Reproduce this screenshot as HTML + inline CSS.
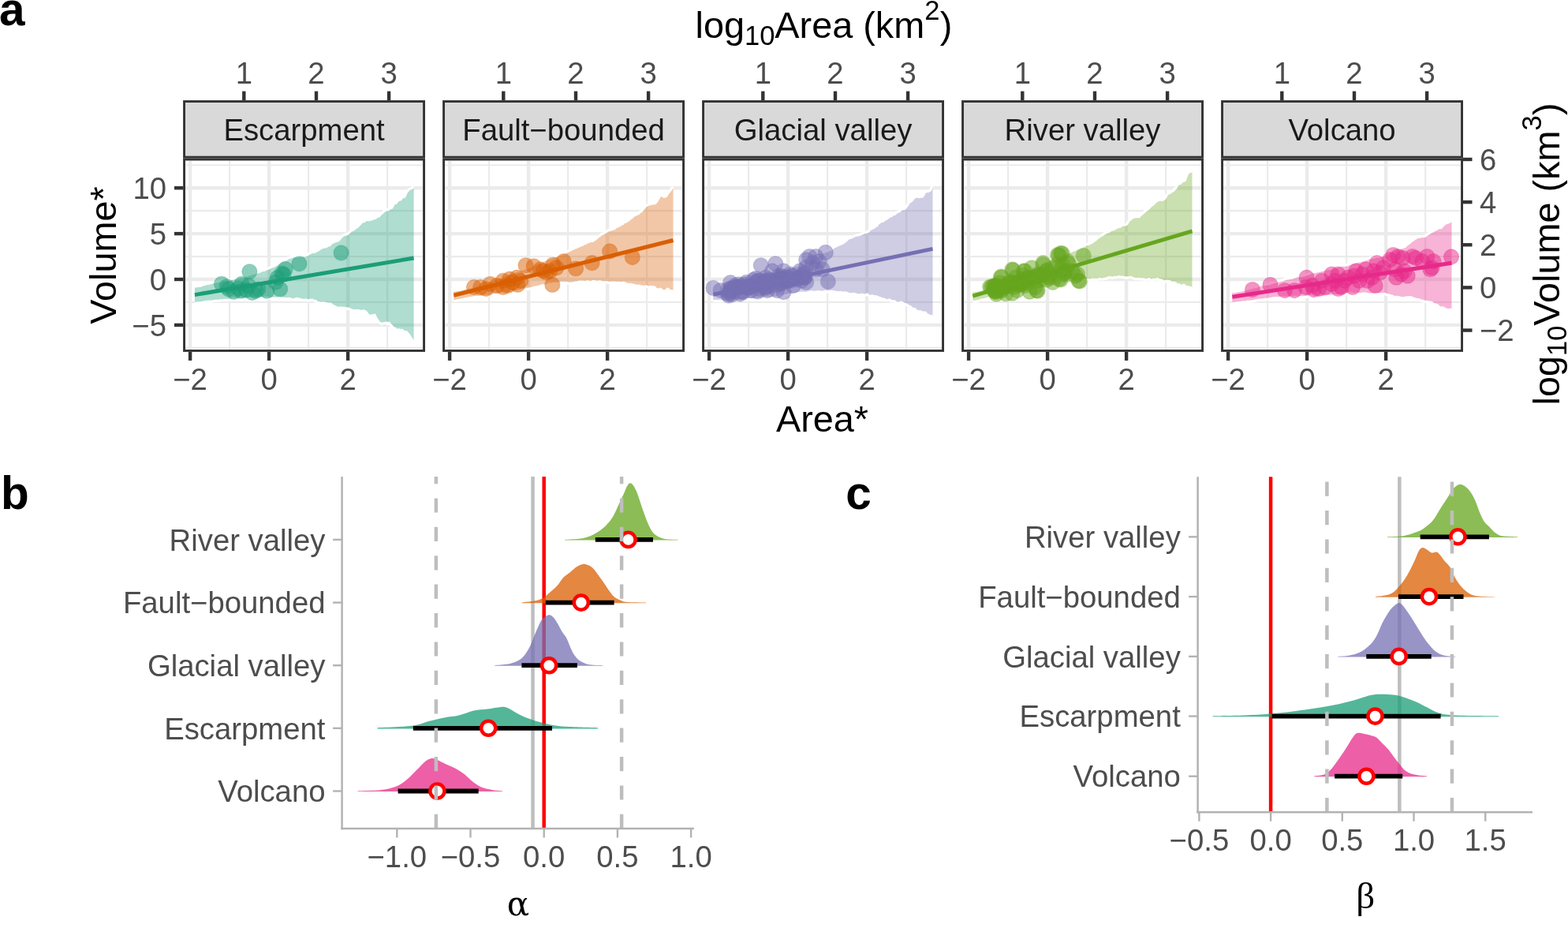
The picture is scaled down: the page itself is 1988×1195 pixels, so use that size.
<!DOCTYPE html><html><head><meta charset="utf-8"><title>Figure</title>
<style>html,body{margin:0;padding:0;background:#fff;overflow:hidden}svg{display:block}</style></head><body>
<svg width="1988" height="1195" viewBox="0 0 1988 1195">
<rect x="0" y="0" width="1988" height="1195" fill="#fff"/>
<defs>
<clipPath id="pc0"><rect x="235" y="203.5" width="301.1" height="239.5"/></clipPath>
<clipPath id="pc1"><rect x="564" y="203.5" width="301.1" height="239.5"/></clipPath>
<clipPath id="pc2"><rect x="893" y="203.5" width="301.1" height="239.5"/></clipPath>
<clipPath id="pc3"><rect x="1222" y="203.5" width="301.1" height="239.5"/></clipPath>
<clipPath id="pc4"><rect x="1551" y="203.5" width="301.1" height="239.5"/></clipPath>
</defs>
<rect x="233.55" y="128.55" width="304" height="70.6" fill="#D9D9D9" stroke="#333333" stroke-width="2.9"/>
<text x="385.55" y="177.8" font-family="'Liberation Sans', Arial, sans-serif" font-size="38.3" fill="#1A1A1A" text-anchor="middle">Escarpment</text>
<g clip-path="url(#pc0)">
<rect x="232.1" y="200.6" width="306.9" height="245.3" fill="#fff"/>
<line x1="191.1" y1="200.6" x2="191.1" y2="445.9" stroke="#EBEBEB" stroke-width="2.2"/>
<line x1="291.1" y1="200.6" x2="291.1" y2="445.9" stroke="#EBEBEB" stroke-width="2.2"/>
<line x1="391.1" y1="200.6" x2="391.1" y2="445.9" stroke="#EBEBEB" stroke-width="2.2"/>
<line x1="491.1" y1="200.6" x2="491.1" y2="445.9" stroke="#EBEBEB" stroke-width="2.2"/>
<line x1="232.1" y1="440.85" x2="539" y2="440.85" stroke="#EBEBEB" stroke-width="2.2"/>
<line x1="232.1" y1="382.95" x2="539" y2="382.95" stroke="#EBEBEB" stroke-width="2.2"/>
<line x1="232.1" y1="325.05" x2="539" y2="325.05" stroke="#EBEBEB" stroke-width="2.2"/>
<line x1="232.1" y1="267.15" x2="539" y2="267.15" stroke="#EBEBEB" stroke-width="2.2"/>
<line x1="232.1" y1="209.25" x2="539" y2="209.25" stroke="#EBEBEB" stroke-width="2.2"/>
<line x1="241.1" y1="200.6" x2="241.1" y2="445.9" stroke="#EBEBEB" stroke-width="4.4"/>
<line x1="341.1" y1="200.6" x2="341.1" y2="445.9" stroke="#EBEBEB" stroke-width="4.4"/>
<line x1="441.1" y1="200.6" x2="441.1" y2="445.9" stroke="#EBEBEB" stroke-width="4.4"/>
<line x1="232.1" y1="411.9" x2="539" y2="411.9" stroke="#EBEBEB" stroke-width="4.4"/>
<line x1="232.1" y1="354" x2="539" y2="354" stroke="#EBEBEB" stroke-width="4.4"/>
<line x1="232.1" y1="296.1" x2="539" y2="296.1" stroke="#EBEBEB" stroke-width="4.4"/>
<line x1="232.1" y1="238.2" x2="539" y2="238.2" stroke="#EBEBEB" stroke-width="4.4"/>
<path d="M246.9,363.1 L248.4,362.83 L249.9,362.44 L251.4,362.44 L252.9,362.35 L254.41,362.06 L255.91,361.33 L257.41,361.1 L258.91,360.39 L260.41,359.89 L261.91,359.65 L263.41,359.43 L264.91,359.13 L266.41,358.62 L267.92,358.4 L269.42,357.93 L270.92,357.56 L272.42,357.41 L273.92,357.01 L275.42,356.62 L276.92,356.2 L278.42,356.07 L279.92,355.84 L281.42,355.17 L282.93,354.98 L284.43,354.91 L285.93,354.38 L287.43,354.36 L288.93,354.45 L290.43,354.18 L291.93,354 L293.43,353.56 L294.93,353.02 L296.44,353.01 L297.94,352.32 L299.44,352.34 L300.94,351.54 L302.44,351.34 L303.94,350.77 L305.44,350.74 L306.94,350.45 L308.44,350.44 L309.95,350.11 L311.45,349.27 L312.95,349.1 L314.45,348.18 L315.95,348.01 L317.45,347.54 L318.95,346.79 L320.45,346.55 L321.95,346.21 L323.46,345.79 L324.96,345.17 L326.46,344.99 L327.96,344.25 L329.46,344.14 L330.96,343.21 L332.46,342.65 L333.96,342.48 L335.46,342.16 L336.96,341.21 L338.47,340.8 L339.97,340.13 L341.47,339.47 L342.97,338.67 L344.47,338.07 L345.97,337.46 L347.47,337.16 L348.97,336.04 L350.47,335.09 L351.98,334.06 L353.48,333.73 L354.98,332.41 L356.48,331.67 L357.98,330.68 L359.48,329.99 L360.98,330.01 L362.48,328.97 L363.98,328.16 L365.49,326.6 L366.99,326.56 L368.49,325.93 L369.99,325.7 L371.49,324.67 L372.99,324.32 L374.49,324.56 L375.99,324.76 L377.49,324.76 L379,324.56 L380.5,324.22 L382,324.19 L383.5,323.72 L385,323.6 L386.5,324.01 L388,323.57 L389.5,322.81 L391,322.12 L392.5,320.81 L394.01,320.45 L395.51,319.43 L397.01,319.39 L398.51,319.34 L400.01,318.63 L401.51,318.11 L403.01,316.84 L404.51,316.45 L406.01,314.78 L407.52,314.04 L409.02,313.47 L410.52,313.27 L412.02,312.9 L413.52,312.73 L415.02,311.54 L416.52,310.81 L418.02,310.67 L419.52,308.78 L421.03,307.29 L422.53,306.93 L424.03,306.34 L425.53,305.73 L427.03,305.01 L428.53,304.98 L430.03,303.64 L431.53,301.76 L433.03,299.98 L434.54,298.69 L436.04,297.94 L437.54,296.91 L439.04,297.07 L440.54,296.33 L442.04,295.12 L443.54,293.76 L445.04,292.01 L446.54,291.85 L448.04,290.95 L449.55,290.11 L451.05,288.23 L452.55,287.95 L454.05,286.47 L455.55,284.71 L457.05,283.32 L458.55,281.32 L460.05,280.58 L461.55,280.67 L463.06,278.73 L464.56,278.56 L466.06,278.6 L467.56,278.42 L469.06,278.57 L470.56,277.97 L472.06,277.63 L473.56,276.42 L475.06,276.77 L476.57,275.89 L478.07,274.05 L479.57,274.3 L481.07,273.31 L482.57,271.24 L484.07,270.24 L485.57,268.98 L487.07,267.03 L488.57,266.68 L490.08,264.88 L491.58,265.89 L493.08,264.97 L494.58,263.98 L496.08,263.71 L497.58,261.87 L499.08,258.65 L500.58,257.68 L502.08,257.49 L503.58,254.86 L505.09,253.94 L506.59,252.41 L508.09,252.88 L509.59,249.9 L511.09,249.72 L512.59,249.4 L514.09,246.54 L515.59,242.89 L517.09,241.66 L518.6,239.73 L520.1,239.12 L521.6,238.72 L523.1,237.45 L524.6,236.9 L524.6,431.7 L523.1,431.75 L521.6,429.26 L520.1,427.02 L518.6,424.55 L517.09,422.83 L515.59,420.96 L514.09,420.77 L512.59,420.35 L511.09,419.58 L509.59,418.29 L508.09,419.16 L506.59,417.83 L505.09,418.38 L503.58,417.9 L502.08,418.23 L500.58,416.13 L499.08,416.09 L497.58,414.27 L496.08,412.64 L494.58,410.98 L493.08,409.24 L491.58,410.47 L490.08,408.97 L488.57,409.48 L487.07,409.5 L485.57,410.03 L484.07,410.42 L482.57,409.73 L481.07,409.29 L479.57,407.13 L478.07,405.29 L476.57,402.81 L475.06,399.21 L473.56,399.49 L472.06,400.21 L470.56,399.91 L469.06,401.3 L467.56,399.94 L466.06,398.29 L464.56,396.08 L463.06,394.78 L461.55,394.27 L460.05,393.81 L458.55,394.73 L457.05,394.31 L455.55,393.83 L454.05,393.57 L452.55,393.67 L451.05,393.59 L449.55,393.58 L448.04,393.99 L446.54,393.18 L445.04,392.27 L443.54,392.22 L442.04,391.16 L440.54,391.56 L439.04,390.75 L437.54,390.54 L436.04,390.32 L434.54,390.32 L433.03,390.39 L431.53,389.87 L430.03,390.61 L428.53,390.38 L427.03,389.69 L425.53,389.21 L424.03,388.48 L422.53,387.73 L421.03,386.94 L419.52,385.39 L418.02,385.02 L416.52,385.09 L415.02,385.03 L413.52,384.53 L412.02,384.6 L410.52,383.84 L409.02,384.26 L407.52,384.05 L406.01,384.34 L404.51,383.69 L403.01,383.7 L401.51,382.73 L400.01,381.37 L398.51,381.11 L397.01,380.83 L395.51,379.97 L394.01,380.26 L392.5,380.42 L391,380.9 L389.5,380.55 L388,380.11 L386.5,380.04 L385,380.37 L383.5,380.43 L382,379.71 L380.5,379.47 L379,379.16 L377.49,378.36 L375.99,378.58 L374.49,378.86 L372.99,379.77 L371.49,379.5 L369.99,379.6 L368.49,378.96 L366.99,378.42 L365.49,378.67 L363.98,378.72 L362.48,378.64 L360.98,378.58 L359.48,378.35 L357.98,378.44 L356.48,378.12 L354.98,377.92 L353.48,377.69 L351.98,378.49 L350.47,378.41 L348.97,378.12 L347.47,378.25 L345.97,378.19 L344.47,378.05 L342.97,378.09 L341.47,378.05 L339.97,377.91 L338.47,377.89 L336.96,377.62 L335.46,377.38 L333.96,377.7 L332.46,378.01 L330.96,378.16 L329.46,378.29 L327.96,378.54 L326.46,378.4 L324.96,378.52 L323.46,378.79 L321.95,378.65 L320.45,378.61 L318.95,378.79 L317.45,378.48 L315.95,378.26 L314.45,378.81 L312.95,379.14 L311.45,379.18 L309.95,379 L308.44,378.98 L306.94,378.9 L305.44,378.83 L303.94,378.78 L302.44,378.47 L300.94,378.55 L299.44,379.14 L297.94,378.98 L296.44,378.86 L294.93,379.31 L293.43,379.44 L291.93,379.78 L290.43,380.01 L288.93,380.45 L287.43,380.53 L285.93,380.45 L284.43,380.36 L282.93,380.45 L281.42,380.75 L279.92,380.96 L278.42,380.77 L276.92,381.23 L275.42,381.34 L273.92,381.18 L272.42,381.54 L270.92,381.68 L269.42,381.9 L267.92,382.32 L266.41,382.3 L264.91,382.11 L263.41,382.17 L261.91,382.46 L260.41,382.62 L258.91,382.87 L257.41,383.46 L255.91,383.59 L254.41,383.6 L252.9,383.74 L251.4,383.84 L249.9,383.88 L248.4,384.03 L246.9,384.1 Z" fill="#1B9E77" fill-opacity="0.35" stroke="none"/>
<path d="M246.9,363.1 L248.4,362.83 L249.9,362.44 L251.4,362.44 L252.9,362.35 L254.41,362.06 L255.91,361.33 L257.41,361.1 L258.91,360.39 L260.41,359.89 L261.91,359.65 L263.41,359.43 L264.91,359.13 L266.41,358.62 L267.92,358.4 L269.42,357.93 L270.92,357.56 L272.42,357.41 L273.92,357.01 L275.42,356.62 L276.92,356.2 L278.42,356.07 L279.92,355.84 L281.42,355.17 L282.93,354.98 L284.43,354.91 L285.93,354.38 L287.43,354.36 L288.93,354.45 L290.43,354.18 L291.93,354 L293.43,353.56 L294.93,353.02 L296.44,353.01 L297.94,352.32 L299.44,352.34 L300.94,351.54 L302.44,351.34 L303.94,350.77 L305.44,350.74 L306.94,350.45 L308.44,350.44 L309.95,350.11 L311.45,349.27 L312.95,349.1 L314.45,348.18 L315.95,348.01 L317.45,347.54 L318.95,346.79 L320.45,346.55 L321.95,346.21 L323.46,345.79 L324.96,345.17 L326.46,344.99 L327.96,344.25 L329.46,344.14 L330.96,343.21 L332.46,342.65 L333.96,342.48 L335.46,342.16 L336.96,341.21 L338.47,340.8 L339.97,340.13 L341.47,339.47 L342.97,338.67 L344.47,338.07 L345.97,337.46 L347.47,337.16 L348.97,336.04 L350.47,335.09 L351.98,334.06 L353.48,333.73 L354.98,332.41 L356.48,331.67 L357.98,330.68 L359.48,329.99 L360.98,330.01 L362.48,328.97 L363.98,328.16 L365.49,326.6 L366.99,326.56 L368.49,325.93 L369.99,325.7 L371.49,324.67 L372.99,324.32 L374.49,324.56 L375.99,324.76 L377.49,324.76 L379,324.56 L380.5,324.22 L382,324.19 L383.5,323.72 L385,323.6 L386.5,324.01 L388,323.57 L389.5,322.81 L391,322.12 L392.5,320.81 L394.01,320.45 L395.51,319.43 L397.01,319.39 L398.51,319.34 L400.01,318.63 L401.51,318.11 L403.01,316.84 L404.51,316.45 L406.01,314.78 L407.52,314.04 L409.02,313.47 L410.52,313.27 L412.02,312.9 L413.52,312.73 L415.02,311.54 L416.52,310.81 L418.02,310.67 L419.52,308.78 L421.03,307.29 L422.53,306.93 L424.03,306.34 L425.53,305.73 L427.03,305.01 L428.53,304.98 L430.03,303.64 L431.53,301.76 L433.03,299.98 L434.54,298.69 L436.04,297.94 L437.54,296.91 L439.04,297.07 L440.54,296.33 L442.04,295.12 L443.54,293.76 L445.04,292.01 L446.54,291.85 L448.04,290.95 L449.55,290.11 L451.05,288.23 L452.55,287.95 L454.05,286.47 L455.55,284.71 L457.05,283.32 L458.55,281.32 L460.05,280.58 L461.55,280.67 L463.06,278.73 L464.56,278.56 L466.06,278.6 L467.56,278.42 L469.06,278.57 L470.56,277.97 L472.06,277.63 L473.56,276.42 L475.06,276.77 L476.57,275.89 L478.07,274.05 L479.57,274.3 L481.07,273.31 L482.57,271.24 L484.07,270.24 L485.57,268.98 L487.07,267.03 L488.57,266.68 L490.08,264.88 L491.58,265.89 L493.08,264.97 L494.58,263.98 L496.08,263.71 L497.58,261.87 L499.08,258.65 L500.58,257.68 L502.08,257.49 L503.58,254.86 L505.09,253.94 L506.59,252.41 L508.09,252.88 L509.59,249.9 L511.09,249.72 L512.59,249.4 L514.09,246.54 L515.59,242.89 L517.09,241.66 L518.6,239.73 L520.1,239.12 L521.6,238.72 L523.1,237.45 L524.6,236.9" fill="none" stroke="#fff" stroke-width="3.2" stroke-linejoin="round"/>
<path d="M246.9,384.1 L248.4,384.03 L249.9,383.88 L251.4,383.84 L252.9,383.74 L254.41,383.6 L255.91,383.59 L257.41,383.46 L258.91,382.87 L260.41,382.62 L261.91,382.46 L263.41,382.17 L264.91,382.11 L266.41,382.3 L267.92,382.32 L269.42,381.9 L270.92,381.68 L272.42,381.54 L273.92,381.18 L275.42,381.34 L276.92,381.23 L278.42,380.77 L279.92,380.96 L281.42,380.75 L282.93,380.45 L284.43,380.36 L285.93,380.45 L287.43,380.53 L288.93,380.45 L290.43,380.01 L291.93,379.78 L293.43,379.44 L294.93,379.31 L296.44,378.86 L297.94,378.98 L299.44,379.14 L300.94,378.55 L302.44,378.47 L303.94,378.78 L305.44,378.83 L306.94,378.9 L308.44,378.98 L309.95,379 L311.45,379.18 L312.95,379.14 L314.45,378.81 L315.95,378.26 L317.45,378.48 L318.95,378.79 L320.45,378.61 L321.95,378.65 L323.46,378.79 L324.96,378.52 L326.46,378.4 L327.96,378.54 L329.46,378.29 L330.96,378.16 L332.46,378.01 L333.96,377.7 L335.46,377.38 L336.96,377.62 L338.47,377.89 L339.97,377.91 L341.47,378.05 L342.97,378.09 L344.47,378.05 L345.97,378.19 L347.47,378.25 L348.97,378.12 L350.47,378.41 L351.98,378.49 L353.48,377.69 L354.98,377.92 L356.48,378.12 L357.98,378.44 L359.48,378.35 L360.98,378.58 L362.48,378.64 L363.98,378.72 L365.49,378.67 L366.99,378.42 L368.49,378.96 L369.99,379.6 L371.49,379.5 L372.99,379.77 L374.49,378.86 L375.99,378.58 L377.49,378.36 L379,379.16 L380.5,379.47 L382,379.71 L383.5,380.43 L385,380.37 L386.5,380.04 L388,380.11 L389.5,380.55 L391,380.9 L392.5,380.42 L394.01,380.26 L395.51,379.97 L397.01,380.83 L398.51,381.11 L400.01,381.37 L401.51,382.73 L403.01,383.7 L404.51,383.69 L406.01,384.34 L407.52,384.05 L409.02,384.26 L410.52,383.84 L412.02,384.6 L413.52,384.53 L415.02,385.03 L416.52,385.09 L418.02,385.02 L419.52,385.39 L421.03,386.94 L422.53,387.73 L424.03,388.48 L425.53,389.21 L427.03,389.69 L428.53,390.38 L430.03,390.61 L431.53,389.87 L433.03,390.39 L434.54,390.32 L436.04,390.32 L437.54,390.54 L439.04,390.75 L440.54,391.56 L442.04,391.16 L443.54,392.22 L445.04,392.27 L446.54,393.18 L448.04,393.99 L449.55,393.58 L451.05,393.59 L452.55,393.67 L454.05,393.57 L455.55,393.83 L457.05,394.31 L458.55,394.73 L460.05,393.81 L461.55,394.27 L463.06,394.78 L464.56,396.08 L466.06,398.29 L467.56,399.94 L469.06,401.3 L470.56,399.91 L472.06,400.21 L473.56,399.49 L475.06,399.21 L476.57,402.81 L478.07,405.29 L479.57,407.13 L481.07,409.29 L482.57,409.73 L484.07,410.42 L485.57,410.03 L487.07,409.5 L488.57,409.48 L490.08,408.97 L491.58,410.47 L493.08,409.24 L494.58,410.98 L496.08,412.64 L497.58,414.27 L499.08,416.09 L500.58,416.13 L502.08,418.23 L503.58,417.9 L505.09,418.38 L506.59,417.83 L508.09,419.16 L509.59,418.29 L511.09,419.58 L512.59,420.35 L514.09,420.77 L515.59,420.96 L517.09,422.83 L518.6,424.55 L520.1,427.02 L521.6,429.26 L523.1,431.75 L524.6,431.7" fill="none" stroke="#fff" stroke-width="3.2" stroke-linejoin="round"/>
<circle cx="432.56" cy="320.47" r="9.6" fill="#1B9E77" fill-opacity="0.5" stroke="#1B9E77" stroke-opacity="0.25" stroke-width="1.2"/>
<circle cx="379.44" cy="334.31" r="9.6" fill="#1B9E77" fill-opacity="0.5" stroke="#1B9E77" stroke-opacity="0.25" stroke-width="1.2"/>
<circle cx="316.36" cy="344.27" r="9.6" fill="#1B9E77" fill-opacity="0.5" stroke="#1B9E77" stroke-opacity="0.25" stroke-width="1.2"/>
<circle cx="361.74" cy="340.95" r="9.6" fill="#1B9E77" fill-opacity="0.5" stroke="#1B9E77" stroke-opacity="0.25" stroke-width="1.2"/>
<circle cx="357.31" cy="346.48" r="9.6" fill="#1B9E77" fill-opacity="0.5" stroke="#1B9E77" stroke-opacity="0.25" stroke-width="1.2"/>
<circle cx="351.78" cy="352.01" r="9.6" fill="#1B9E77" fill-opacity="0.5" stroke="#1B9E77" stroke-opacity="0.25" stroke-width="1.2"/>
<circle cx="355.1" cy="366.4" r="9.6" fill="#1B9E77" fill-opacity="0.5" stroke="#1B9E77" stroke-opacity="0.25" stroke-width="1.2"/>
<circle cx="338.49" cy="368.61" r="9.6" fill="#1B9E77" fill-opacity="0.5" stroke="#1B9E77" stroke-opacity="0.25" stroke-width="1.2"/>
<circle cx="280.95" cy="359.76" r="9.6" fill="#1B9E77" fill-opacity="0.5" stroke="#1B9E77" stroke-opacity="0.25" stroke-width="1.2"/>
<circle cx="287.59" cy="363.08" r="9.6" fill="#1B9E77" fill-opacity="0.5" stroke="#1B9E77" stroke-opacity="0.25" stroke-width="1.2"/>
<circle cx="296.44" cy="369.72" r="9.6" fill="#1B9E77" fill-opacity="0.5" stroke="#1B9E77" stroke-opacity="0.25" stroke-width="1.2"/>
<circle cx="305.29" cy="368.61" r="9.6" fill="#1B9E77" fill-opacity="0.5" stroke="#1B9E77" stroke-opacity="0.25" stroke-width="1.2"/>
<circle cx="306.4" cy="359.76" r="9.6" fill="#1B9E77" fill-opacity="0.5" stroke="#1B9E77" stroke-opacity="0.25" stroke-width="1.2"/>
<circle cx="324.11" cy="368.61" r="9.6" fill="#1B9E77" fill-opacity="0.5" stroke="#1B9E77" stroke-opacity="0.25" stroke-width="1.2"/>
<circle cx="327.43" cy="366.4" r="9.6" fill="#1B9E77" fill-opacity="0.5" stroke="#1B9E77" stroke-opacity="0.25" stroke-width="1.2"/>
<circle cx="315.25" cy="361.97" r="9.6" fill="#1B9E77" fill-opacity="0.5" stroke="#1B9E77" stroke-opacity="0.25" stroke-width="1.2"/>
<circle cx="289.8" cy="366.4" r="9.6" fill="#1B9E77" fill-opacity="0.5" stroke="#1B9E77" stroke-opacity="0.25" stroke-width="1.2"/>
<circle cx="301.97" cy="365.29" r="9.6" fill="#1B9E77" fill-opacity="0.5" stroke="#1B9E77" stroke-opacity="0.25" stroke-width="1.2"/>
<circle cx="311.93" cy="367.51" r="9.6" fill="#1B9E77" fill-opacity="0.5" stroke="#1B9E77" stroke-opacity="0.25" stroke-width="1.2"/>
<circle cx="319.68" cy="370.83" r="9.6" fill="#1B9E77" fill-opacity="0.5" stroke="#1B9E77" stroke-opacity="0.25" stroke-width="1.2"/>
<circle cx="349.56" cy="357.55" r="9.6" fill="#1B9E77" fill-opacity="0.5" stroke="#1B9E77" stroke-opacity="0.25" stroke-width="1.2"/>
<circle cx="359.52" cy="347.59" r="9.6" fill="#1B9E77" fill-opacity="0.5" stroke="#1B9E77" stroke-opacity="0.25" stroke-width="1.2"/>
<line x1="246.9" y1="373.6" x2="524.6" y2="327" stroke="#1B9E77" stroke-width="5"/>
</g>
<rect x="233.55" y="202.05" width="304" height="242.4" fill="none" stroke="#333333" stroke-width="2.9"/>
<line x1="241.1" y1="445.9" x2="241.1" y2="456.9" stroke="#333333" stroke-width="4.4"/>
<text x="241.1" y="493.5" font-family="'Liberation Sans', Arial, sans-serif" font-size="38.3" fill="#4D4D4D" text-anchor="middle">−2</text>
<line x1="341.1" y1="445.9" x2="341.1" y2="456.9" stroke="#333333" stroke-width="4.4"/>
<text x="341.1" y="493.5" font-family="'Liberation Sans', Arial, sans-serif" font-size="38.3" fill="#4D4D4D" text-anchor="middle">0</text>
<line x1="441.1" y1="445.9" x2="441.1" y2="456.9" stroke="#333333" stroke-width="4.4"/>
<text x="441.1" y="493.5" font-family="'Liberation Sans', Arial, sans-serif" font-size="38.3" fill="#4D4D4D" text-anchor="middle">2</text>
<line x1="309.3" y1="115.6" x2="309.3" y2="127.1" stroke="#333333" stroke-width="4.4"/>
<text x="309.3" y="105.6" font-family="'Liberation Sans', Arial, sans-serif" font-size="38.3" fill="#4D4D4D" text-anchor="middle">1</text>
<line x1="401" y1="115.6" x2="401" y2="127.1" stroke="#333333" stroke-width="4.4"/>
<text x="401" y="105.6" font-family="'Liberation Sans', Arial, sans-serif" font-size="38.3" fill="#4D4D4D" text-anchor="middle">2</text>
<line x1="493.1" y1="115.6" x2="493.1" y2="127.1" stroke="#333333" stroke-width="4.4"/>
<text x="493.1" y="105.6" font-family="'Liberation Sans', Arial, sans-serif" font-size="38.3" fill="#4D4D4D" text-anchor="middle">3</text>
<rect x="562.55" y="128.55" width="304" height="70.6" fill="#D9D9D9" stroke="#333333" stroke-width="2.9"/>
<text x="714.55" y="177.8" font-family="'Liberation Sans', Arial, sans-serif" font-size="38.3" fill="#1A1A1A" text-anchor="middle">Fault−bounded</text>
<g clip-path="url(#pc1)">
<rect x="561.1" y="200.6" width="306.9" height="245.3" fill="#fff"/>
<line x1="520.1" y1="200.6" x2="520.1" y2="445.9" stroke="#EBEBEB" stroke-width="2.2"/>
<line x1="620.1" y1="200.6" x2="620.1" y2="445.9" stroke="#EBEBEB" stroke-width="2.2"/>
<line x1="720.1" y1="200.6" x2="720.1" y2="445.9" stroke="#EBEBEB" stroke-width="2.2"/>
<line x1="820.1" y1="200.6" x2="820.1" y2="445.9" stroke="#EBEBEB" stroke-width="2.2"/>
<line x1="561.1" y1="440.85" x2="868" y2="440.85" stroke="#EBEBEB" stroke-width="2.2"/>
<line x1="561.1" y1="382.95" x2="868" y2="382.95" stroke="#EBEBEB" stroke-width="2.2"/>
<line x1="561.1" y1="325.05" x2="868" y2="325.05" stroke="#EBEBEB" stroke-width="2.2"/>
<line x1="561.1" y1="267.15" x2="868" y2="267.15" stroke="#EBEBEB" stroke-width="2.2"/>
<line x1="561.1" y1="209.25" x2="868" y2="209.25" stroke="#EBEBEB" stroke-width="2.2"/>
<line x1="570.1" y1="200.6" x2="570.1" y2="445.9" stroke="#EBEBEB" stroke-width="4.4"/>
<line x1="670.1" y1="200.6" x2="670.1" y2="445.9" stroke="#EBEBEB" stroke-width="4.4"/>
<line x1="770.1" y1="200.6" x2="770.1" y2="445.9" stroke="#EBEBEB" stroke-width="4.4"/>
<line x1="561.1" y1="411.9" x2="868" y2="411.9" stroke="#EBEBEB" stroke-width="4.4"/>
<line x1="561.1" y1="354" x2="868" y2="354" stroke="#EBEBEB" stroke-width="4.4"/>
<line x1="561.1" y1="296.1" x2="868" y2="296.1" stroke="#EBEBEB" stroke-width="4.4"/>
<line x1="561.1" y1="238.2" x2="868" y2="238.2" stroke="#EBEBEB" stroke-width="4.4"/>
<path d="M575.3,368.1 L576.8,367.83 L578.31,367.66 L579.81,367.45 L581.32,367.32 L582.82,367.15 L584.32,366.96 L585.83,366.36 L587.33,365.96 L588.83,365.54 L590.34,365.13 L591.84,364.82 L593.35,364.41 L594.85,364.19 L596.35,364.07 L597.86,363.62 L599.36,363.42 L600.86,363.03 L602.37,362.41 L603.87,361.85 L605.38,361.51 L606.88,360.99 L608.38,360.71 L609.89,360.18 L611.39,359.56 L612.89,359.18 L614.4,358.38 L615.9,357.89 L617.41,357.45 L618.91,356.99 L620.41,356.38 L621.92,355.69 L623.42,354.86 L624.92,354.28 L626.43,353.62 L627.93,352.92 L629.44,352.49 L630.94,351.89 L632.44,351.7 L633.95,351.31 L635.45,350.64 L636.96,350.21 L638.46,349.23 L639.96,348.88 L641.47,348.02 L642.97,347.51 L644.47,347.09 L645.98,346.63 L647.48,346.38 L648.99,345.49 L650.49,344.75 L651.99,344.29 L653.5,343.98 L655,343.27 L656.5,342.86 L658.01,342.47 L659.51,342.25 L661.02,341.8 L662.52,341.33 L664.02,340.67 L665.53,339.91 L667.03,339.54 L668.53,339.03 L670.04,338.56 L671.54,337.93 L673.05,337.25 L674.55,336.77 L676.05,335.89 L677.56,335.13 L679.06,334.19 L680.56,333.43 L682.07,332.91 L683.57,332.77 L685.08,332.22 L686.58,331.63 L688.08,330.55 L689.59,329.87 L691.09,329.26 L692.6,328.82 L694.1,328.3 L695.6,327.78 L697.11,327.42 L698.61,326.79 L700.11,326.06 L701.62,325.71 L703.12,324.82 L704.63,324.35 L706.13,323.51 L707.63,323.36 L709.14,322.75 L710.64,322.45 L712.14,321.9 L713.65,320.96 L715.15,320.64 L716.66,319.71 L718.16,319 L719.66,318.75 L721.17,317.88 L722.67,317.2 L724.17,316.35 L725.68,315.2 L727.18,315.07 L728.69,313.97 L730.19,313.76 L731.69,313.09 L733.2,312.39 L734.7,311.75 L736.2,311.07 L737.71,310.56 L739.21,309.59 L740.72,308.81 L742.22,308.47 L743.72,307.67 L745.23,306.75 L746.73,306.3 L748.24,305.91 L749.74,305.06 L751.24,305.45 L752.75,304.54 L754.25,303.47 L755.75,302.27 L757.26,301.23 L758.76,299.53 L760.27,298.66 L761.77,297.4 L763.27,296.36 L764.78,295.87 L766.28,295.21 L767.78,293.77 L769.29,293.15 L770.79,292.29 L772.3,291.21 L773.8,291.31 L775.3,290.55 L776.81,290.37 L778.31,289.83 L779.81,288.88 L781.32,287.22 L782.82,286.88 L784.33,286.39 L785.83,285.72 L787.33,284.17 L788.84,284.08 L790.34,282.72 L791.84,281.25 L793.35,281.18 L794.85,280.27 L796.36,278.97 L797.86,278.22 L799.36,276.69 L800.87,275.89 L802.37,274.28 L803.88,273.17 L805.38,272.31 L806.88,271.34 L808.39,271.15 L809.89,270.12 L811.39,268.6 L812.9,267.88 L814.4,266.22 L815.91,263.9 L817.41,262.31 L818.91,260.67 L820.42,260.01 L821.92,259.17 L823.42,258.63 L824.93,258.59 L826.43,257.82 L827.94,257.98 L829.44,257.64 L830.94,257.14 L832.45,255.52 L833.95,252.85 L835.45,250.52 L836.96,247.61 L838.46,246.94 L839.97,248.02 L841.47,249.24 L842.97,249.21 L844.48,248.63 L845.98,245.99 L847.48,244.05 L848.99,242.29 L850.49,240.35 L852,238.08 L853.5,237 L853.5,369.4 L852,368.56 L850.49,368.87 L848.99,368.74 L847.48,366.56 L845.98,366.14 L844.48,368.24 L842.97,369.08 L841.47,368.9 L839.97,368.83 L838.46,366.93 L836.96,366.1 L835.45,367.42 L833.95,366.76 L832.45,366.86 L830.94,365.3 L829.44,363.93 L827.94,363.96 L826.43,363.68 L824.93,363.28 L823.42,363.94 L821.92,364.1 L820.42,363.28 L818.91,362.74 L817.41,363.68 L815.91,363.25 L814.4,363.06 L812.9,362.74 L811.39,362.78 L809.89,362.12 L808.39,362.32 L806.88,362.38 L805.38,361.61 L803.88,361.43 L802.37,360.93 L800.87,360.78 L799.36,360.38 L797.86,360.81 L796.36,360.39 L794.85,360.65 L793.35,359.37 L791.84,358.87 L790.34,358.37 L788.84,358.71 L787.33,358.77 L785.83,358.7 L784.33,358.36 L782.82,358.25 L781.32,359 L779.81,358.29 L778.31,358.19 L776.81,358.44 L775.3,358.24 L773.8,358.25 L772.3,358.47 L770.79,358.16 L769.29,357.73 L767.78,357.84 L766.28,357.76 L764.78,357.72 L763.27,357.52 L761.77,357.15 L760.27,356.74 L758.76,357.02 L757.26,357.33 L755.75,357.04 L754.25,356.88 L752.75,356.71 L751.24,356.63 L749.74,357.41 L748.24,357.61 L746.73,357 L745.23,356.89 L743.72,357.09 L742.22,357.46 L740.72,357.66 L739.21,357.22 L737.71,357.19 L736.2,357.26 L734.7,357.11 L733.2,357.54 L731.69,357.88 L730.19,357.99 L728.69,358.16 L727.18,358.78 L725.68,359.4 L724.17,359.07 L722.67,359.32 L721.17,359.33 L719.66,358.82 L718.16,358.59 L716.66,358.6 L715.15,358.44 L713.65,358.53 L712.14,358.4 L710.64,358.63 L709.14,358.99 L707.63,359.35 L706.13,359.64 L704.63,359.43 L703.12,359.49 L701.62,359.68 L700.11,359.97 L698.61,360.29 L697.11,360 L695.6,360.57 L694.1,361.24 L692.6,361.73 L691.09,361.93 L689.59,362 L688.08,361.68 L686.58,361.84 L685.08,362.75 L683.57,363.04 L682.07,363.43 L680.56,363.84 L679.06,364.1 L677.56,364.39 L676.05,364.83 L674.55,365.45 L673.05,365.65 L671.54,365.89 L670.04,366.32 L668.53,366.35 L667.03,366.66 L665.53,367.23 L664.02,367.4 L662.52,367.55 L661.02,368.41 L659.51,368.82 L658.01,368.96 L656.5,369.35 L655,369.63 L653.5,369.82 L651.99,370.41 L650.49,370.63 L648.99,371.12 L647.48,371.51 L645.98,371.47 L644.47,371.48 L642.97,371.46 L641.47,371.78 L639.96,372.05 L638.46,372.51 L636.96,372.61 L635.45,372.44 L633.95,372.88 L632.44,373.16 L630.94,373.11 L629.44,373.49 L627.93,373.6 L626.43,373.54 L624.92,374.05 L623.42,374.52 L621.92,374.88 L620.41,374.98 L618.91,375.22 L617.41,375.37 L615.9,375.64 L614.4,375.7 L612.89,375.95 L611.39,376.27 L609.89,376.45 L608.38,376.27 L606.88,376.62 L605.38,376.43 L603.87,376.5 L602.37,376.56 L600.86,376.71 L599.36,377.23 L597.86,377.39 L596.35,377.62 L594.85,377.8 L593.35,378.07 L591.84,378.26 L590.34,378.79 L588.83,378.78 L587.33,379.51 L585.83,379.68 L584.32,379.93 L582.82,380.36 L581.32,380.65 L579.81,380.69 L578.31,381.11 L576.8,381.27 L575.3,381.4 Z" fill="#D95F02" fill-opacity="0.35" stroke="none"/>
<path d="M575.3,368.1 L576.8,367.83 L578.31,367.66 L579.81,367.45 L581.32,367.32 L582.82,367.15 L584.32,366.96 L585.83,366.36 L587.33,365.96 L588.83,365.54 L590.34,365.13 L591.84,364.82 L593.35,364.41 L594.85,364.19 L596.35,364.07 L597.86,363.62 L599.36,363.42 L600.86,363.03 L602.37,362.41 L603.87,361.85 L605.38,361.51 L606.88,360.99 L608.38,360.71 L609.89,360.18 L611.39,359.56 L612.89,359.18 L614.4,358.38 L615.9,357.89 L617.41,357.45 L618.91,356.99 L620.41,356.38 L621.92,355.69 L623.42,354.86 L624.92,354.28 L626.43,353.62 L627.93,352.92 L629.44,352.49 L630.94,351.89 L632.44,351.7 L633.95,351.31 L635.45,350.64 L636.96,350.21 L638.46,349.23 L639.96,348.88 L641.47,348.02 L642.97,347.51 L644.47,347.09 L645.98,346.63 L647.48,346.38 L648.99,345.49 L650.49,344.75 L651.99,344.29 L653.5,343.98 L655,343.27 L656.5,342.86 L658.01,342.47 L659.51,342.25 L661.02,341.8 L662.52,341.33 L664.02,340.67 L665.53,339.91 L667.03,339.54 L668.53,339.03 L670.04,338.56 L671.54,337.93 L673.05,337.25 L674.55,336.77 L676.05,335.89 L677.56,335.13 L679.06,334.19 L680.56,333.43 L682.07,332.91 L683.57,332.77 L685.08,332.22 L686.58,331.63 L688.08,330.55 L689.59,329.87 L691.09,329.26 L692.6,328.82 L694.1,328.3 L695.6,327.78 L697.11,327.42 L698.61,326.79 L700.11,326.06 L701.62,325.71 L703.12,324.82 L704.63,324.35 L706.13,323.51 L707.63,323.36 L709.14,322.75 L710.64,322.45 L712.14,321.9 L713.65,320.96 L715.15,320.64 L716.66,319.71 L718.16,319 L719.66,318.75 L721.17,317.88 L722.67,317.2 L724.17,316.35 L725.68,315.2 L727.18,315.07 L728.69,313.97 L730.19,313.76 L731.69,313.09 L733.2,312.39 L734.7,311.75 L736.2,311.07 L737.71,310.56 L739.21,309.59 L740.72,308.81 L742.22,308.47 L743.72,307.67 L745.23,306.75 L746.73,306.3 L748.24,305.91 L749.74,305.06 L751.24,305.45 L752.75,304.54 L754.25,303.47 L755.75,302.27 L757.26,301.23 L758.76,299.53 L760.27,298.66 L761.77,297.4 L763.27,296.36 L764.78,295.87 L766.28,295.21 L767.78,293.77 L769.29,293.15 L770.79,292.29 L772.3,291.21 L773.8,291.31 L775.3,290.55 L776.81,290.37 L778.31,289.83 L779.81,288.88 L781.32,287.22 L782.82,286.88 L784.33,286.39 L785.83,285.72 L787.33,284.17 L788.84,284.08 L790.34,282.72 L791.84,281.25 L793.35,281.18 L794.85,280.27 L796.36,278.97 L797.86,278.22 L799.36,276.69 L800.87,275.89 L802.37,274.28 L803.88,273.17 L805.38,272.31 L806.88,271.34 L808.39,271.15 L809.89,270.12 L811.39,268.6 L812.9,267.88 L814.4,266.22 L815.91,263.9 L817.41,262.31 L818.91,260.67 L820.42,260.01 L821.92,259.17 L823.42,258.63 L824.93,258.59 L826.43,257.82 L827.94,257.98 L829.44,257.64 L830.94,257.14 L832.45,255.52 L833.95,252.85 L835.45,250.52 L836.96,247.61 L838.46,246.94 L839.97,248.02 L841.47,249.24 L842.97,249.21 L844.48,248.63 L845.98,245.99 L847.48,244.05 L848.99,242.29 L850.49,240.35 L852,238.08 L853.5,237" fill="none" stroke="#fff" stroke-width="3.2" stroke-linejoin="round"/>
<path d="M575.3,381.4 L576.8,381.27 L578.31,381.11 L579.81,380.69 L581.32,380.65 L582.82,380.36 L584.32,379.93 L585.83,379.68 L587.33,379.51 L588.83,378.78 L590.34,378.79 L591.84,378.26 L593.35,378.07 L594.85,377.8 L596.35,377.62 L597.86,377.39 L599.36,377.23 L600.86,376.71 L602.37,376.56 L603.87,376.5 L605.38,376.43 L606.88,376.62 L608.38,376.27 L609.89,376.45 L611.39,376.27 L612.89,375.95 L614.4,375.7 L615.9,375.64 L617.41,375.37 L618.91,375.22 L620.41,374.98 L621.92,374.88 L623.42,374.52 L624.92,374.05 L626.43,373.54 L627.93,373.6 L629.44,373.49 L630.94,373.11 L632.44,373.16 L633.95,372.88 L635.45,372.44 L636.96,372.61 L638.46,372.51 L639.96,372.05 L641.47,371.78 L642.97,371.46 L644.47,371.48 L645.98,371.47 L647.48,371.51 L648.99,371.12 L650.49,370.63 L651.99,370.41 L653.5,369.82 L655,369.63 L656.5,369.35 L658.01,368.96 L659.51,368.82 L661.02,368.41 L662.52,367.55 L664.02,367.4 L665.53,367.23 L667.03,366.66 L668.53,366.35 L670.04,366.32 L671.54,365.89 L673.05,365.65 L674.55,365.45 L676.05,364.83 L677.56,364.39 L679.06,364.1 L680.56,363.84 L682.07,363.43 L683.57,363.04 L685.08,362.75 L686.58,361.84 L688.08,361.68 L689.59,362 L691.09,361.93 L692.6,361.73 L694.1,361.24 L695.6,360.57 L697.11,360 L698.61,360.29 L700.11,359.97 L701.62,359.68 L703.12,359.49 L704.63,359.43 L706.13,359.64 L707.63,359.35 L709.14,358.99 L710.64,358.63 L712.14,358.4 L713.65,358.53 L715.15,358.44 L716.66,358.6 L718.16,358.59 L719.66,358.82 L721.17,359.33 L722.67,359.32 L724.17,359.07 L725.68,359.4 L727.18,358.78 L728.69,358.16 L730.19,357.99 L731.69,357.88 L733.2,357.54 L734.7,357.11 L736.2,357.26 L737.71,357.19 L739.21,357.22 L740.72,357.66 L742.22,357.46 L743.72,357.09 L745.23,356.89 L746.73,357 L748.24,357.61 L749.74,357.41 L751.24,356.63 L752.75,356.71 L754.25,356.88 L755.75,357.04 L757.26,357.33 L758.76,357.02 L760.27,356.74 L761.77,357.15 L763.27,357.52 L764.78,357.72 L766.28,357.76 L767.78,357.84 L769.29,357.73 L770.79,358.16 L772.3,358.47 L773.8,358.25 L775.3,358.24 L776.81,358.44 L778.31,358.19 L779.81,358.29 L781.32,359 L782.82,358.25 L784.33,358.36 L785.83,358.7 L787.33,358.77 L788.84,358.71 L790.34,358.37 L791.84,358.87 L793.35,359.37 L794.85,360.65 L796.36,360.39 L797.86,360.81 L799.36,360.38 L800.87,360.78 L802.37,360.93 L803.88,361.43 L805.38,361.61 L806.88,362.38 L808.39,362.32 L809.89,362.12 L811.39,362.78 L812.9,362.74 L814.4,363.06 L815.91,363.25 L817.41,363.68 L818.91,362.74 L820.42,363.28 L821.92,364.1 L823.42,363.94 L824.93,363.28 L826.43,363.68 L827.94,363.96 L829.44,363.93 L830.94,365.3 L832.45,366.86 L833.95,366.76 L835.45,367.42 L836.96,366.1 L838.46,366.93 L839.97,368.83 L841.47,368.9 L842.97,369.08 L844.48,368.24 L845.98,366.14 L847.48,366.56 L848.99,368.74 L850.49,368.87 L852,368.56 L853.5,369.4" fill="none" stroke="#fff" stroke-width="3.2" stroke-linejoin="round"/>
<circle cx="600.94" cy="363.97" r="9.6" fill="#D95F02" fill-opacity="0.5" stroke="#D95F02" stroke-opacity="0.25" stroke-width="1.2"/>
<circle cx="616.31" cy="366.02" r="9.6" fill="#D95F02" fill-opacity="0.5" stroke="#D95F02" stroke-opacity="0.25" stroke-width="1.2"/>
<circle cx="621.44" cy="359.87" r="9.6" fill="#D95F02" fill-opacity="0.5" stroke="#D95F02" stroke-opacity="0.25" stroke-width="1.2"/>
<circle cx="637.84" cy="363.97" r="9.6" fill="#D95F02" fill-opacity="0.5" stroke="#D95F02" stroke-opacity="0.25" stroke-width="1.2"/>
<circle cx="637.84" cy="355.77" r="9.6" fill="#D95F02" fill-opacity="0.5" stroke="#D95F02" stroke-opacity="0.25" stroke-width="1.2"/>
<circle cx="646.03" cy="353.72" r="9.6" fill="#D95F02" fill-opacity="0.5" stroke="#D95F02" stroke-opacity="0.25" stroke-width="1.2"/>
<circle cx="655.26" cy="351.67" r="9.6" fill="#D95F02" fill-opacity="0.5" stroke="#D95F02" stroke-opacity="0.25" stroke-width="1.2"/>
<circle cx="656.28" cy="360.89" r="9.6" fill="#D95F02" fill-opacity="0.5" stroke="#D95F02" stroke-opacity="0.25" stroke-width="1.2"/>
<circle cx="666.53" cy="336.3" r="9.6" fill="#D95F02" fill-opacity="0.5" stroke="#D95F02" stroke-opacity="0.25" stroke-width="1.2"/>
<circle cx="676.78" cy="337.32" r="9.6" fill="#D95F02" fill-opacity="0.5" stroke="#D95F02" stroke-opacity="0.25" stroke-width="1.2"/>
<circle cx="693.17" cy="345.52" r="9.6" fill="#D95F02" fill-opacity="0.5" stroke="#D95F02" stroke-opacity="0.25" stroke-width="1.2"/>
<circle cx="701.37" cy="335.27" r="9.6" fill="#D95F02" fill-opacity="0.5" stroke="#D95F02" stroke-opacity="0.25" stroke-width="1.2"/>
<circle cx="705.47" cy="339.37" r="9.6" fill="#D95F02" fill-opacity="0.5" stroke="#D95F02" stroke-opacity="0.25" stroke-width="1.2"/>
<circle cx="714.7" cy="331.17" r="9.6" fill="#D95F02" fill-opacity="0.5" stroke="#D95F02" stroke-opacity="0.25" stroke-width="1.2"/>
<circle cx="700.35" cy="360.89" r="9.6" fill="#D95F02" fill-opacity="0.5" stroke="#D95F02" stroke-opacity="0.25" stroke-width="1.2"/>
<circle cx="730.07" cy="340.4" r="9.6" fill="#D95F02" fill-opacity="0.5" stroke="#D95F02" stroke-opacity="0.25" stroke-width="1.2"/>
<circle cx="750.56" cy="333.22" r="9.6" fill="#D95F02" fill-opacity="0.5" stroke="#D95F02" stroke-opacity="0.25" stroke-width="1.2"/>
<circle cx="773.11" cy="318.47" r="9.6" fill="#D95F02" fill-opacity="0.5" stroke="#D95F02" stroke-opacity="0.25" stroke-width="1.2"/>
<circle cx="801.8" cy="326.05" r="9.6" fill="#D95F02" fill-opacity="0.5" stroke="#D95F02" stroke-opacity="0.25" stroke-width="1.2"/>
<circle cx="609.14" cy="363.97" r="9.6" fill="#D95F02" fill-opacity="0.5" stroke="#D95F02" stroke-opacity="0.25" stroke-width="1.2"/>
<circle cx="629.64" cy="361.92" r="9.6" fill="#D95F02" fill-opacity="0.5" stroke="#D95F02" stroke-opacity="0.25" stroke-width="1.2"/>
<circle cx="643.98" cy="361.92" r="9.6" fill="#D95F02" fill-opacity="0.5" stroke="#D95F02" stroke-opacity="0.25" stroke-width="1.2"/>
<circle cx="650.13" cy="357.82" r="9.6" fill="#D95F02" fill-opacity="0.5" stroke="#D95F02" stroke-opacity="0.25" stroke-width="1.2"/>
<circle cx="660.38" cy="355.77" r="9.6" fill="#D95F02" fill-opacity="0.5" stroke="#D95F02" stroke-opacity="0.25" stroke-width="1.2"/>
<circle cx="684.98" cy="341.42" r="9.6" fill="#D95F02" fill-opacity="0.5" stroke="#D95F02" stroke-opacity="0.25" stroke-width="1.2"/>
<circle cx="689.08" cy="343.47" r="9.6" fill="#D95F02" fill-opacity="0.5" stroke="#D95F02" stroke-opacity="0.25" stroke-width="1.2"/>
<circle cx="697.27" cy="343.47" r="9.6" fill="#D95F02" fill-opacity="0.5" stroke="#D95F02" stroke-opacity="0.25" stroke-width="1.2"/>
<line x1="575.3" y1="374.2" x2="853.5" y2="304.5" stroke="#D95F02" stroke-width="5"/>
</g>
<rect x="562.55" y="202.05" width="304" height="242.4" fill="none" stroke="#333333" stroke-width="2.9"/>
<line x1="570.1" y1="445.9" x2="570.1" y2="456.9" stroke="#333333" stroke-width="4.4"/>
<text x="570.1" y="493.5" font-family="'Liberation Sans', Arial, sans-serif" font-size="38.3" fill="#4D4D4D" text-anchor="middle">−2</text>
<line x1="670.1" y1="445.9" x2="670.1" y2="456.9" stroke="#333333" stroke-width="4.4"/>
<text x="670.1" y="493.5" font-family="'Liberation Sans', Arial, sans-serif" font-size="38.3" fill="#4D4D4D" text-anchor="middle">0</text>
<line x1="770.1" y1="445.9" x2="770.1" y2="456.9" stroke="#333333" stroke-width="4.4"/>
<text x="770.1" y="493.5" font-family="'Liberation Sans', Arial, sans-serif" font-size="38.3" fill="#4D4D4D" text-anchor="middle">2</text>
<line x1="638.3" y1="115.6" x2="638.3" y2="127.1" stroke="#333333" stroke-width="4.4"/>
<text x="638.3" y="105.6" font-family="'Liberation Sans', Arial, sans-serif" font-size="38.3" fill="#4D4D4D" text-anchor="middle">1</text>
<line x1="730" y1="115.6" x2="730" y2="127.1" stroke="#333333" stroke-width="4.4"/>
<text x="730" y="105.6" font-family="'Liberation Sans', Arial, sans-serif" font-size="38.3" fill="#4D4D4D" text-anchor="middle">2</text>
<line x1="822.1" y1="115.6" x2="822.1" y2="127.1" stroke="#333333" stroke-width="4.4"/>
<text x="822.1" y="105.6" font-family="'Liberation Sans', Arial, sans-serif" font-size="38.3" fill="#4D4D4D" text-anchor="middle">3</text>
<rect x="891.55" y="128.55" width="304" height="70.6" fill="#D9D9D9" stroke="#333333" stroke-width="2.9"/>
<text x="1043.55" y="177.8" font-family="'Liberation Sans', Arial, sans-serif" font-size="38.3" fill="#1A1A1A" text-anchor="middle">Glacial valley</text>
<g clip-path="url(#pc2)">
<rect x="890.1" y="200.6" width="306.9" height="245.3" fill="#fff"/>
<line x1="849.1" y1="200.6" x2="849.1" y2="445.9" stroke="#EBEBEB" stroke-width="2.2"/>
<line x1="949.1" y1="200.6" x2="949.1" y2="445.9" stroke="#EBEBEB" stroke-width="2.2"/>
<line x1="1049.1" y1="200.6" x2="1049.1" y2="445.9" stroke="#EBEBEB" stroke-width="2.2"/>
<line x1="1149.1" y1="200.6" x2="1149.1" y2="445.9" stroke="#EBEBEB" stroke-width="2.2"/>
<line x1="890.1" y1="440.85" x2="1197" y2="440.85" stroke="#EBEBEB" stroke-width="2.2"/>
<line x1="890.1" y1="382.95" x2="1197" y2="382.95" stroke="#EBEBEB" stroke-width="2.2"/>
<line x1="890.1" y1="325.05" x2="1197" y2="325.05" stroke="#EBEBEB" stroke-width="2.2"/>
<line x1="890.1" y1="267.15" x2="1197" y2="267.15" stroke="#EBEBEB" stroke-width="2.2"/>
<line x1="890.1" y1="209.25" x2="1197" y2="209.25" stroke="#EBEBEB" stroke-width="2.2"/>
<line x1="899.1" y1="200.6" x2="899.1" y2="445.9" stroke="#EBEBEB" stroke-width="4.4"/>
<line x1="999.1" y1="200.6" x2="999.1" y2="445.9" stroke="#EBEBEB" stroke-width="4.4"/>
<line x1="1099.1" y1="200.6" x2="1099.1" y2="445.9" stroke="#EBEBEB" stroke-width="4.4"/>
<line x1="890.1" y1="411.9" x2="1197" y2="411.9" stroke="#EBEBEB" stroke-width="4.4"/>
<line x1="890.1" y1="354" x2="1197" y2="354" stroke="#EBEBEB" stroke-width="4.4"/>
<line x1="890.1" y1="296.1" x2="1197" y2="296.1" stroke="#EBEBEB" stroke-width="4.4"/>
<line x1="890.1" y1="238.2" x2="1197" y2="238.2" stroke="#EBEBEB" stroke-width="4.4"/>
<path d="M904.3,370.1 L905.8,369.84 L907.31,369.65 L908.81,369.45 L910.32,368.92 L911.82,368.65 L913.32,368.44 L914.83,367.76 L916.33,367.41 L917.83,367 L919.34,366.28 L920.84,365.85 L922.35,365.44 L923.85,365.05 L925.35,364.5 L926.86,363.86 L928.36,363.54 L929.86,362.89 L931.37,362.2 L932.87,362 L934.38,361.72 L935.88,361.2 L937.38,360.66 L938.89,360.54 L940.39,359.76 L941.89,358.93 L943.4,358.46 L944.9,357.96 L946.41,357.49 L947.91,356.7 L949.41,356 L950.92,355.43 L952.42,354.95 L953.92,354.34 L955.43,354 L956.93,353.07 L958.44,352.98 L959.94,352.31 L961.44,351.89 L962.95,351.18 L964.45,350.6 L965.96,349.77 L967.46,349.27 L968.96,348.73 L970.47,348.38 L971.97,347.72 L973.47,347.24 L974.98,346.62 L976.48,346.32 L977.99,345.51 L979.49,344.36 L980.99,343.8 L982.5,343.57 L984,343.3 L985.5,342.42 L987.01,342.4 L988.51,342.2 L990.02,341.88 L991.52,341.74 L993.02,341.42 L994.53,341.03 L996.03,340.4 L997.53,339.93 L999.04,339.08 L1000.54,338.68 L1002.05,338.35 L1003.55,337.9 L1005.05,337.37 L1006.56,337.22 L1008.06,336.71 L1009.56,336.22 L1011.07,335.91 L1012.57,335.58 L1014.08,334.85 L1015.58,334.34 L1017.08,334.1 L1018.59,333.38 L1020.09,332.61 L1021.6,331.95 L1023.1,331.21 L1024.6,331.25 L1026.11,330.43 L1027.61,329.67 L1029.11,329.5 L1030.62,328.07 L1032.12,326.7 L1033.63,325.73 L1035.13,325.29 L1036.63,323.94 L1038.14,323.45 L1039.64,322.25 L1041.14,321.52 L1042.65,319.87 L1044.15,319.41 L1045.66,318.88 L1047.16,318.09 L1048.66,318.13 L1050.17,317.09 L1051.67,316.58 L1053.17,316.2 L1054.68,315.53 L1056.18,313.9 L1057.69,312.59 L1059.19,312.47 L1060.69,311.63 L1062.2,310.53 L1063.7,310.14 L1065.2,309.29 L1066.71,309.02 L1068.21,308.13 L1069.72,307.31 L1071.22,305.95 L1072.72,304.85 L1074.23,303.56 L1075.73,302.3 L1077.24,301.27 L1078.74,301.31 L1080.24,300.35 L1081.75,299.87 L1083.25,298.98 L1084.75,298.27 L1086.26,298.18 L1087.76,298.13 L1089.27,297.49 L1090.77,296.89 L1092.27,296.34 L1093.78,295.68 L1095.28,294.68 L1096.78,294.33 L1098.29,294.52 L1099.79,293.48 L1101.3,293.01 L1102.8,290.73 L1104.3,290.11 L1105.81,289.4 L1107.31,288.73 L1108.81,287.56 L1110.32,286.7 L1111.82,285.59 L1113.33,283.21 L1114.83,282.39 L1116.33,281 L1117.84,280.53 L1119.34,280.37 L1120.84,278.81 L1122.35,278.14 L1123.85,277.49 L1125.36,275.93 L1126.86,275.39 L1128.36,273.25 L1129.87,273.91 L1131.37,272.42 L1132.88,271.63 L1134.38,271.52 L1135.88,269.86 L1137.39,268.76 L1138.89,268.15 L1140.39,267.8 L1141.9,266.06 L1143.4,264.93 L1144.91,264.69 L1146.41,264.73 L1147.91,263.72 L1149.42,261.12 L1150.92,259.21 L1152.42,256.6 L1153.93,255.55 L1155.43,254.6 L1156.94,253.12 L1158.44,251.12 L1159.94,249.22 L1161.45,249.47 L1162.95,248.74 L1164.45,249.18 L1165.96,249.64 L1167.46,248.61 L1168.97,249.25 L1170.47,247.75 L1171.97,244.74 L1173.48,243.18 L1174.98,241.98 L1176.48,242.7 L1177.99,241.65 L1179.49,241.19 L1181,237.97 L1182.5,232.1 L1182.5,399.8 L1181,400.77 L1179.49,400.62 L1177.99,399.93 L1176.48,399.34 L1174.98,398.74 L1173.48,396.25 L1171.97,396.05 L1170.47,396.14 L1168.97,395.88 L1167.46,395.29 L1165.96,394.51 L1164.45,395.26 L1162.95,394.34 L1161.45,393.54 L1159.94,391.57 L1158.44,391.62 L1156.94,391.43 L1155.43,389.85 L1153.93,388.71 L1152.42,387.96 L1150.92,387.35 L1149.42,386.18 L1147.91,385.48 L1146.41,385.2 L1144.91,384.35 L1143.4,383.47 L1141.9,383.15 L1140.39,384.02 L1138.89,384.04 L1137.39,383.9 L1135.88,383.42 L1134.38,382.11 L1132.88,381.64 L1131.37,381.67 L1129.87,381.79 L1128.36,380.09 L1126.86,380.21 L1125.36,380.47 L1123.85,380.75 L1122.35,380.1 L1120.84,378.87 L1119.34,379.8 L1117.84,378.37 L1116.33,377.92 L1114.83,377.56 L1113.33,376.67 L1111.82,376.16 L1110.32,375.91 L1108.81,375.66 L1107.31,375.49 L1105.81,374.75 L1104.3,375.51 L1102.8,375.34 L1101.3,374.95 L1099.79,373.03 L1098.29,373.33 L1096.78,374.22 L1095.28,373.98 L1093.78,373.66 L1092.27,373.33 L1090.77,373.93 L1089.27,373.94 L1087.76,373.84 L1086.26,373.43 L1084.75,372.87 L1083.25,372.59 L1081.75,372.24 L1080.24,372.85 L1078.74,372.71 L1077.24,372.5 L1075.73,372.19 L1074.23,371.66 L1072.72,371.05 L1071.22,370.97 L1069.72,370.98 L1068.21,370.88 L1066.71,370.74 L1065.2,370.32 L1063.7,370.99 L1062.2,370.64 L1060.69,370.55 L1059.19,369.98 L1057.69,370.02 L1056.18,369.37 L1054.68,369.4 L1053.17,369.41 L1051.67,369.55 L1050.17,369.58 L1048.66,369.43 L1047.16,369.67 L1045.66,369.38 L1044.15,370.25 L1042.65,370.04 L1041.14,370.21 L1039.64,370.05 L1038.14,369.8 L1036.63,369.53 L1035.13,370.14 L1033.63,370.22 L1032.12,370.32 L1030.62,370.08 L1029.11,369.9 L1027.61,369.94 L1026.11,370.26 L1024.6,370.25 L1023.1,371.28 L1021.6,371.42 L1020.09,371.46 L1018.59,371.11 L1017.08,371.27 L1015.58,371.15 L1014.08,371.5 L1012.57,371.53 L1011.07,371.71 L1009.56,372.33 L1008.06,372.44 L1006.56,372.91 L1005.05,373.22 L1003.55,373.74 L1002.05,373.7 L1000.54,373.85 L999.04,373.82 L997.53,374.28 L996.03,374.6 L994.53,374.34 L993.02,374.77 L991.52,375.11 L990.02,375.41 L988.51,375.51 L987.01,375.64 L985.5,376.39 L984,376.58 L982.5,376.84 L980.99,377.51 L979.49,377.86 L977.99,377.64 L976.48,378 L974.98,377.75 L973.47,377.65 L971.97,377.84 L970.47,377.93 L968.96,378.1 L967.46,378.21 L965.96,378.75 L964.45,379.13 L962.95,378.98 L961.44,379.37 L959.94,379.35 L958.44,379.36 L956.93,380.02 L955.43,379.6 L953.92,379.65 L952.42,379.67 L950.92,379.36 L949.41,379.46 L947.91,379.25 L946.41,379.34 L944.9,379.67 L943.4,380.07 L941.89,380.23 L940.39,380.22 L938.89,380.19 L937.38,380.43 L935.88,380.27 L934.38,380.36 L932.87,380.59 L931.37,380.71 L929.86,380.69 L928.36,380.45 L926.86,380.57 L925.35,380.47 L923.85,380.93 L922.35,381.11 L920.84,381.21 L919.34,381.4 L917.83,381.35 L916.33,381.51 L914.83,381.48 L913.32,381.29 L911.82,381.3 L910.32,381.54 L908.81,381.36 L907.31,381.44 L905.8,381.52 L904.3,381.4 Z" fill="#7570B3" fill-opacity="0.35" stroke="none"/>
<path d="M904.3,370.1 L905.8,369.84 L907.31,369.65 L908.81,369.45 L910.32,368.92 L911.82,368.65 L913.32,368.44 L914.83,367.76 L916.33,367.41 L917.83,367 L919.34,366.28 L920.84,365.85 L922.35,365.44 L923.85,365.05 L925.35,364.5 L926.86,363.86 L928.36,363.54 L929.86,362.89 L931.37,362.2 L932.87,362 L934.38,361.72 L935.88,361.2 L937.38,360.66 L938.89,360.54 L940.39,359.76 L941.89,358.93 L943.4,358.46 L944.9,357.96 L946.41,357.49 L947.91,356.7 L949.41,356 L950.92,355.43 L952.42,354.95 L953.92,354.34 L955.43,354 L956.93,353.07 L958.44,352.98 L959.94,352.31 L961.44,351.89 L962.95,351.18 L964.45,350.6 L965.96,349.77 L967.46,349.27 L968.96,348.73 L970.47,348.38 L971.97,347.72 L973.47,347.24 L974.98,346.62 L976.48,346.32 L977.99,345.51 L979.49,344.36 L980.99,343.8 L982.5,343.57 L984,343.3 L985.5,342.42 L987.01,342.4 L988.51,342.2 L990.02,341.88 L991.52,341.74 L993.02,341.42 L994.53,341.03 L996.03,340.4 L997.53,339.93 L999.04,339.08 L1000.54,338.68 L1002.05,338.35 L1003.55,337.9 L1005.05,337.37 L1006.56,337.22 L1008.06,336.71 L1009.56,336.22 L1011.07,335.91 L1012.57,335.58 L1014.08,334.85 L1015.58,334.34 L1017.08,334.1 L1018.59,333.38 L1020.09,332.61 L1021.6,331.95 L1023.1,331.21 L1024.6,331.25 L1026.11,330.43 L1027.61,329.67 L1029.11,329.5 L1030.62,328.07 L1032.12,326.7 L1033.63,325.73 L1035.13,325.29 L1036.63,323.94 L1038.14,323.45 L1039.64,322.25 L1041.14,321.52 L1042.65,319.87 L1044.15,319.41 L1045.66,318.88 L1047.16,318.09 L1048.66,318.13 L1050.17,317.09 L1051.67,316.58 L1053.17,316.2 L1054.68,315.53 L1056.18,313.9 L1057.69,312.59 L1059.19,312.47 L1060.69,311.63 L1062.2,310.53 L1063.7,310.14 L1065.2,309.29 L1066.71,309.02 L1068.21,308.13 L1069.72,307.31 L1071.22,305.95 L1072.72,304.85 L1074.23,303.56 L1075.73,302.3 L1077.24,301.27 L1078.74,301.31 L1080.24,300.35 L1081.75,299.87 L1083.25,298.98 L1084.75,298.27 L1086.26,298.18 L1087.76,298.13 L1089.27,297.49 L1090.77,296.89 L1092.27,296.34 L1093.78,295.68 L1095.28,294.68 L1096.78,294.33 L1098.29,294.52 L1099.79,293.48 L1101.3,293.01 L1102.8,290.73 L1104.3,290.11 L1105.81,289.4 L1107.31,288.73 L1108.81,287.56 L1110.32,286.7 L1111.82,285.59 L1113.33,283.21 L1114.83,282.39 L1116.33,281 L1117.84,280.53 L1119.34,280.37 L1120.84,278.81 L1122.35,278.14 L1123.85,277.49 L1125.36,275.93 L1126.86,275.39 L1128.36,273.25 L1129.87,273.91 L1131.37,272.42 L1132.88,271.63 L1134.38,271.52 L1135.88,269.86 L1137.39,268.76 L1138.89,268.15 L1140.39,267.8 L1141.9,266.06 L1143.4,264.93 L1144.91,264.69 L1146.41,264.73 L1147.91,263.72 L1149.42,261.12 L1150.92,259.21 L1152.42,256.6 L1153.93,255.55 L1155.43,254.6 L1156.94,253.12 L1158.44,251.12 L1159.94,249.22 L1161.45,249.47 L1162.95,248.74 L1164.45,249.18 L1165.96,249.64 L1167.46,248.61 L1168.97,249.25 L1170.47,247.75 L1171.97,244.74 L1173.48,243.18 L1174.98,241.98 L1176.48,242.7 L1177.99,241.65 L1179.49,241.19 L1181,237.97 L1182.5,232.1" fill="none" stroke="#fff" stroke-width="3.2" stroke-linejoin="round"/>
<path d="M904.3,381.4 L905.8,381.52 L907.31,381.44 L908.81,381.36 L910.32,381.54 L911.82,381.3 L913.32,381.29 L914.83,381.48 L916.33,381.51 L917.83,381.35 L919.34,381.4 L920.84,381.21 L922.35,381.11 L923.85,380.93 L925.35,380.47 L926.86,380.57 L928.36,380.45 L929.86,380.69 L931.37,380.71 L932.87,380.59 L934.38,380.36 L935.88,380.27 L937.38,380.43 L938.89,380.19 L940.39,380.22 L941.89,380.23 L943.4,380.07 L944.9,379.67 L946.41,379.34 L947.91,379.25 L949.41,379.46 L950.92,379.36 L952.42,379.67 L953.92,379.65 L955.43,379.6 L956.93,380.02 L958.44,379.36 L959.94,379.35 L961.44,379.37 L962.95,378.98 L964.45,379.13 L965.96,378.75 L967.46,378.21 L968.96,378.1 L970.47,377.93 L971.97,377.84 L973.47,377.65 L974.98,377.75 L976.48,378 L977.99,377.64 L979.49,377.86 L980.99,377.51 L982.5,376.84 L984,376.58 L985.5,376.39 L987.01,375.64 L988.51,375.51 L990.02,375.41 L991.52,375.11 L993.02,374.77 L994.53,374.34 L996.03,374.6 L997.53,374.28 L999.04,373.82 L1000.54,373.85 L1002.05,373.7 L1003.55,373.74 L1005.05,373.22 L1006.56,372.91 L1008.06,372.44 L1009.56,372.33 L1011.07,371.71 L1012.57,371.53 L1014.08,371.5 L1015.58,371.15 L1017.08,371.27 L1018.59,371.11 L1020.09,371.46 L1021.6,371.42 L1023.1,371.28 L1024.6,370.25 L1026.11,370.26 L1027.61,369.94 L1029.11,369.9 L1030.62,370.08 L1032.12,370.32 L1033.63,370.22 L1035.13,370.14 L1036.63,369.53 L1038.14,369.8 L1039.64,370.05 L1041.14,370.21 L1042.65,370.04 L1044.15,370.25 L1045.66,369.38 L1047.16,369.67 L1048.66,369.43 L1050.17,369.58 L1051.67,369.55 L1053.17,369.41 L1054.68,369.4 L1056.18,369.37 L1057.69,370.02 L1059.19,369.98 L1060.69,370.55 L1062.2,370.64 L1063.7,370.99 L1065.2,370.32 L1066.71,370.74 L1068.21,370.88 L1069.72,370.98 L1071.22,370.97 L1072.72,371.05 L1074.23,371.66 L1075.73,372.19 L1077.24,372.5 L1078.74,372.71 L1080.24,372.85 L1081.75,372.24 L1083.25,372.59 L1084.75,372.87 L1086.26,373.43 L1087.76,373.84 L1089.27,373.94 L1090.77,373.93 L1092.27,373.33 L1093.78,373.66 L1095.28,373.98 L1096.78,374.22 L1098.29,373.33 L1099.79,373.03 L1101.3,374.95 L1102.8,375.34 L1104.3,375.51 L1105.81,374.75 L1107.31,375.49 L1108.81,375.66 L1110.32,375.91 L1111.82,376.16 L1113.33,376.67 L1114.83,377.56 L1116.33,377.92 L1117.84,378.37 L1119.34,379.8 L1120.84,378.87 L1122.35,380.1 L1123.85,380.75 L1125.36,380.47 L1126.86,380.21 L1128.36,380.09 L1129.87,381.79 L1131.37,381.67 L1132.88,381.64 L1134.38,382.11 L1135.88,383.42 L1137.39,383.9 L1138.89,384.04 L1140.39,384.02 L1141.9,383.15 L1143.4,383.47 L1144.91,384.35 L1146.41,385.2 L1147.91,385.48 L1149.42,386.18 L1150.92,387.35 L1152.42,387.96 L1153.93,388.71 L1155.43,389.85 L1156.94,391.43 L1158.44,391.62 L1159.94,391.57 L1161.45,393.54 L1162.95,394.34 L1164.45,395.26 L1165.96,394.51 L1167.46,395.29 L1168.97,395.88 L1170.47,396.14 L1171.97,396.05 L1173.48,396.25 L1174.98,398.74 L1176.48,399.34 L1177.99,399.93 L1179.49,400.62 L1181,400.77 L1182.5,399.8" fill="none" stroke="#fff" stroke-width="3.2" stroke-linejoin="round"/>
<circle cx="904.32" cy="364.99" r="9.6" fill="#7570B3" fill-opacity="0.5" stroke="#7570B3" stroke-opacity="0.25" stroke-width="1.2"/>
<circle cx="913.55" cy="368.07" r="9.6" fill="#7570B3" fill-opacity="0.5" stroke="#7570B3" stroke-opacity="0.25" stroke-width="1.2"/>
<circle cx="927.89" cy="366.02" r="9.6" fill="#7570B3" fill-opacity="0.5" stroke="#7570B3" stroke-opacity="0.25" stroke-width="1.2"/>
<circle cx="931.99" cy="361.92" r="9.6" fill="#7570B3" fill-opacity="0.5" stroke="#7570B3" stroke-opacity="0.25" stroke-width="1.2"/>
<circle cx="938.14" cy="363.97" r="9.6" fill="#7570B3" fill-opacity="0.5" stroke="#7570B3" stroke-opacity="0.25" stroke-width="1.2"/>
<circle cx="942.24" cy="370.12" r="9.6" fill="#7570B3" fill-opacity="0.5" stroke="#7570B3" stroke-opacity="0.25" stroke-width="1.2"/>
<circle cx="946.34" cy="357.82" r="9.6" fill="#7570B3" fill-opacity="0.5" stroke="#7570B3" stroke-opacity="0.25" stroke-width="1.2"/>
<circle cx="948.39" cy="363.97" r="9.6" fill="#7570B3" fill-opacity="0.5" stroke="#7570B3" stroke-opacity="0.25" stroke-width="1.2"/>
<circle cx="952.49" cy="368.07" r="9.6" fill="#7570B3" fill-opacity="0.5" stroke="#7570B3" stroke-opacity="0.25" stroke-width="1.2"/>
<circle cx="956.59" cy="361.92" r="9.6" fill="#7570B3" fill-opacity="0.5" stroke="#7570B3" stroke-opacity="0.25" stroke-width="1.2"/>
<circle cx="960.69" cy="355.77" r="9.6" fill="#7570B3" fill-opacity="0.5" stroke="#7570B3" stroke-opacity="0.25" stroke-width="1.2"/>
<circle cx="962.74" cy="366.02" r="9.6" fill="#7570B3" fill-opacity="0.5" stroke="#7570B3" stroke-opacity="0.25" stroke-width="1.2"/>
<circle cx="964.79" cy="336.3" r="9.6" fill="#7570B3" fill-opacity="0.5" stroke="#7570B3" stroke-opacity="0.25" stroke-width="1.2"/>
<circle cx="966.84" cy="359.87" r="9.6" fill="#7570B3" fill-opacity="0.5" stroke="#7570B3" stroke-opacity="0.25" stroke-width="1.2"/>
<circle cx="970.93" cy="351.67" r="9.6" fill="#7570B3" fill-opacity="0.5" stroke="#7570B3" stroke-opacity="0.25" stroke-width="1.2"/>
<circle cx="972.98" cy="368.07" r="9.6" fill="#7570B3" fill-opacity="0.5" stroke="#7570B3" stroke-opacity="0.25" stroke-width="1.2"/>
<circle cx="977.08" cy="361.92" r="9.6" fill="#7570B3" fill-opacity="0.5" stroke="#7570B3" stroke-opacity="0.25" stroke-width="1.2"/>
<circle cx="979.13" cy="343.47" r="9.6" fill="#7570B3" fill-opacity="0.5" stroke="#7570B3" stroke-opacity="0.25" stroke-width="1.2"/>
<circle cx="981.18" cy="355.77" r="9.6" fill="#7570B3" fill-opacity="0.5" stroke="#7570B3" stroke-opacity="0.25" stroke-width="1.2"/>
<circle cx="983.23" cy="334.25" r="9.6" fill="#7570B3" fill-opacity="0.5" stroke="#7570B3" stroke-opacity="0.25" stroke-width="1.2"/>
<circle cx="985.28" cy="368.07" r="9.6" fill="#7570B3" fill-opacity="0.5" stroke="#7570B3" stroke-opacity="0.25" stroke-width="1.2"/>
<circle cx="987.33" cy="349.62" r="9.6" fill="#7570B3" fill-opacity="0.5" stroke="#7570B3" stroke-opacity="0.25" stroke-width="1.2"/>
<circle cx="989.38" cy="359.87" r="9.6" fill="#7570B3" fill-opacity="0.5" stroke="#7570B3" stroke-opacity="0.25" stroke-width="1.2"/>
<circle cx="993.48" cy="343.47" r="9.6" fill="#7570B3" fill-opacity="0.5" stroke="#7570B3" stroke-opacity="0.25" stroke-width="1.2"/>
<circle cx="993.48" cy="370.12" r="9.6" fill="#7570B3" fill-opacity="0.5" stroke="#7570B3" stroke-opacity="0.25" stroke-width="1.2"/>
<circle cx="997.58" cy="355.77" r="9.6" fill="#7570B3" fill-opacity="0.5" stroke="#7570B3" stroke-opacity="0.25" stroke-width="1.2"/>
<circle cx="1001.68" cy="347.57" r="9.6" fill="#7570B3" fill-opacity="0.5" stroke="#7570B3" stroke-opacity="0.25" stroke-width="1.2"/>
<circle cx="1005.78" cy="361.92" r="9.6" fill="#7570B3" fill-opacity="0.5" stroke="#7570B3" stroke-opacity="0.25" stroke-width="1.2"/>
<circle cx="1009.88" cy="353.72" r="9.6" fill="#7570B3" fill-opacity="0.5" stroke="#7570B3" stroke-opacity="0.25" stroke-width="1.2"/>
<circle cx="1013.98" cy="343.47" r="9.6" fill="#7570B3" fill-opacity="0.5" stroke="#7570B3" stroke-opacity="0.25" stroke-width="1.2"/>
<circle cx="1016.03" cy="355.77" r="9.6" fill="#7570B3" fill-opacity="0.5" stroke="#7570B3" stroke-opacity="0.25" stroke-width="1.2"/>
<circle cx="1020.12" cy="351.67" r="9.6" fill="#7570B3" fill-opacity="0.5" stroke="#7570B3" stroke-opacity="0.25" stroke-width="1.2"/>
<circle cx="1022.17" cy="329.12" r="9.6" fill="#7570B3" fill-opacity="0.5" stroke="#7570B3" stroke-opacity="0.25" stroke-width="1.2"/>
<circle cx="1022.17" cy="357.82" r="9.6" fill="#7570B3" fill-opacity="0.5" stroke="#7570B3" stroke-opacity="0.25" stroke-width="1.2"/>
<circle cx="1026.27" cy="325.03" r="9.6" fill="#7570B3" fill-opacity="0.5" stroke="#7570B3" stroke-opacity="0.25" stroke-width="1.2"/>
<circle cx="1030.37" cy="333.22" r="9.6" fill="#7570B3" fill-opacity="0.5" stroke="#7570B3" stroke-opacity="0.25" stroke-width="1.2"/>
<circle cx="1034.47" cy="325.03" r="9.6" fill="#7570B3" fill-opacity="0.5" stroke="#7570B3" stroke-opacity="0.25" stroke-width="1.2"/>
<circle cx="1038.57" cy="331.17" r="9.6" fill="#7570B3" fill-opacity="0.5" stroke="#7570B3" stroke-opacity="0.25" stroke-width="1.2"/>
<circle cx="1042.67" cy="341.42" r="9.6" fill="#7570B3" fill-opacity="0.5" stroke="#7570B3" stroke-opacity="0.25" stroke-width="1.2"/>
<circle cx="1046.77" cy="319.9" r="9.6" fill="#7570B3" fill-opacity="0.5" stroke="#7570B3" stroke-opacity="0.25" stroke-width="1.2"/>
<circle cx="1049.84" cy="356.79" r="9.6" fill="#7570B3" fill-opacity="0.5" stroke="#7570B3" stroke-opacity="0.25" stroke-width="1.2"/>
<circle cx="1034.47" cy="341.42" r="9.6" fill="#7570B3" fill-opacity="0.5" stroke="#7570B3" stroke-opacity="0.25" stroke-width="1.2"/>
<circle cx="969.46" cy="355.59" r="9.6" fill="#7570B3" fill-opacity="0.5" stroke="#7570B3" stroke-opacity="0.25" stroke-width="1.2"/>
<circle cx="936.26" cy="360.37" r="9.6" fill="#7570B3" fill-opacity="0.5" stroke="#7570B3" stroke-opacity="0.25" stroke-width="1.2"/>
<circle cx="923.09" cy="366.47" r="9.6" fill="#7570B3" fill-opacity="0.5" stroke="#7570B3" stroke-opacity="0.25" stroke-width="1.2"/>
<circle cx="1003.03" cy="355.52" r="9.6" fill="#7570B3" fill-opacity="0.5" stroke="#7570B3" stroke-opacity="0.25" stroke-width="1.2"/>
<circle cx="991.06" cy="350.04" r="9.6" fill="#7570B3" fill-opacity="0.5" stroke="#7570B3" stroke-opacity="0.25" stroke-width="1.2"/>
<circle cx="988.13" cy="351.98" r="9.6" fill="#7570B3" fill-opacity="0.5" stroke="#7570B3" stroke-opacity="0.25" stroke-width="1.2"/>
<circle cx="936.53" cy="363.74" r="9.6" fill="#7570B3" fill-opacity="0.5" stroke="#7570B3" stroke-opacity="0.25" stroke-width="1.2"/>
<circle cx="1012.6" cy="351.79" r="9.6" fill="#7570B3" fill-opacity="0.5" stroke="#7570B3" stroke-opacity="0.25" stroke-width="1.2"/>
<circle cx="927.88" cy="369.13" r="9.6" fill="#7570B3" fill-opacity="0.5" stroke="#7570B3" stroke-opacity="0.25" stroke-width="1.2"/>
<circle cx="990.69" cy="353.46" r="9.6" fill="#7570B3" fill-opacity="0.5" stroke="#7570B3" stroke-opacity="0.25" stroke-width="1.2"/>
<circle cx="955.7" cy="354.58" r="9.6" fill="#7570B3" fill-opacity="0.5" stroke="#7570B3" stroke-opacity="0.25" stroke-width="1.2"/>
<circle cx="923.86" cy="374.56" r="9.6" fill="#7570B3" fill-opacity="0.5" stroke="#7570B3" stroke-opacity="0.25" stroke-width="1.2"/>
<circle cx="928.08" cy="373.39" r="9.6" fill="#7570B3" fill-opacity="0.5" stroke="#7570B3" stroke-opacity="0.25" stroke-width="1.2"/>
<circle cx="931.1" cy="364.6" r="9.6" fill="#7570B3" fill-opacity="0.5" stroke="#7570B3" stroke-opacity="0.25" stroke-width="1.2"/>
<circle cx="1020.71" cy="351.32" r="9.6" fill="#7570B3" fill-opacity="0.5" stroke="#7570B3" stroke-opacity="0.25" stroke-width="1.2"/>
<circle cx="964.32" cy="359.93" r="9.6" fill="#7570B3" fill-opacity="0.5" stroke="#7570B3" stroke-opacity="0.25" stroke-width="1.2"/>
<circle cx="935.51" cy="364.05" r="9.6" fill="#7570B3" fill-opacity="0.5" stroke="#7570B3" stroke-opacity="0.25" stroke-width="1.2"/>
<circle cx="938.35" cy="372.56" r="9.6" fill="#7570B3" fill-opacity="0.5" stroke="#7570B3" stroke-opacity="0.25" stroke-width="1.2"/>
<circle cx="991.68" cy="357.95" r="9.6" fill="#7570B3" fill-opacity="0.5" stroke="#7570B3" stroke-opacity="0.25" stroke-width="1.2"/>
<circle cx="1003.57" cy="353.55" r="9.6" fill="#7570B3" fill-opacity="0.5" stroke="#7570B3" stroke-opacity="0.25" stroke-width="1.2"/>
<circle cx="962.05" cy="355.33" r="9.6" fill="#7570B3" fill-opacity="0.5" stroke="#7570B3" stroke-opacity="0.25" stroke-width="1.2"/>
<circle cx="969.68" cy="362.9" r="9.6" fill="#7570B3" fill-opacity="0.5" stroke="#7570B3" stroke-opacity="0.25" stroke-width="1.2"/>
<circle cx="960.46" cy="369.43" r="9.6" fill="#7570B3" fill-opacity="0.5" stroke="#7570B3" stroke-opacity="0.25" stroke-width="1.2"/>
<circle cx="1018.75" cy="350.96" r="9.6" fill="#7570B3" fill-opacity="0.5" stroke="#7570B3" stroke-opacity="0.25" stroke-width="1.2"/>
<circle cx="1019.63" cy="346.81" r="9.6" fill="#7570B3" fill-opacity="0.5" stroke="#7570B3" stroke-opacity="0.25" stroke-width="1.2"/>
<circle cx="958.31" cy="357.96" r="9.6" fill="#7570B3" fill-opacity="0.5" stroke="#7570B3" stroke-opacity="0.25" stroke-width="1.2"/>
<circle cx="991.01" cy="354.05" r="9.6" fill="#7570B3" fill-opacity="0.5" stroke="#7570B3" stroke-opacity="0.25" stroke-width="1.2"/>
<circle cx="945.5" cy="362.46" r="9.6" fill="#7570B3" fill-opacity="0.5" stroke="#7570B3" stroke-opacity="0.25" stroke-width="1.2"/>
<circle cx="958.33" cy="352.88" r="9.6" fill="#7570B3" fill-opacity="0.5" stroke="#7570B3" stroke-opacity="0.25" stroke-width="1.2"/>
<circle cx="972" cy="358.48" r="9.6" fill="#7570B3" fill-opacity="0.5" stroke="#7570B3" stroke-opacity="0.25" stroke-width="1.2"/>
<circle cx="924.81" cy="371.27" r="9.6" fill="#7570B3" fill-opacity="0.5" stroke="#7570B3" stroke-opacity="0.25" stroke-width="1.2"/>
<circle cx="973.9" cy="353.98" r="9.6" fill="#7570B3" fill-opacity="0.5" stroke="#7570B3" stroke-opacity="0.25" stroke-width="1.2"/>
<circle cx="944.22" cy="360.46" r="9.6" fill="#7570B3" fill-opacity="0.5" stroke="#7570B3" stroke-opacity="0.25" stroke-width="1.2"/>
<circle cx="999.19" cy="355.67" r="9.6" fill="#7570B3" fill-opacity="0.5" stroke="#7570B3" stroke-opacity="0.25" stroke-width="1.2"/>
<circle cx="932.26" cy="364.41" r="9.6" fill="#7570B3" fill-opacity="0.5" stroke="#7570B3" stroke-opacity="0.25" stroke-width="1.2"/>
<circle cx="991.59" cy="354.1" r="9.6" fill="#7570B3" fill-opacity="0.5" stroke="#7570B3" stroke-opacity="0.25" stroke-width="1.2"/>
<circle cx="925.68" cy="367.99" r="9.6" fill="#7570B3" fill-opacity="0.5" stroke="#7570B3" stroke-opacity="0.25" stroke-width="1.2"/>
<circle cx="985.69" cy="360.82" r="9.6" fill="#7570B3" fill-opacity="0.5" stroke="#7570B3" stroke-opacity="0.25" stroke-width="1.2"/>
<circle cx="927.21" cy="365.13" r="9.6" fill="#7570B3" fill-opacity="0.5" stroke="#7570B3" stroke-opacity="0.25" stroke-width="1.2"/>
<circle cx="950.19" cy="364.53" r="9.6" fill="#7570B3" fill-opacity="0.5" stroke="#7570B3" stroke-opacity="0.25" stroke-width="1.2"/>
<circle cx="969.63" cy="365.16" r="9.6" fill="#7570B3" fill-opacity="0.5" stroke="#7570B3" stroke-opacity="0.25" stroke-width="1.2"/>
<circle cx="1017.59" cy="348.19" r="9.6" fill="#7570B3" fill-opacity="0.5" stroke="#7570B3" stroke-opacity="0.25" stroke-width="1.2"/>
<circle cx="938.76" cy="370.27" r="9.6" fill="#7570B3" fill-opacity="0.5" stroke="#7570B3" stroke-opacity="0.25" stroke-width="1.2"/>
<circle cx="940.92" cy="363.41" r="9.6" fill="#7570B3" fill-opacity="0.5" stroke="#7570B3" stroke-opacity="0.25" stroke-width="1.2"/>
<circle cx="996.85" cy="354.46" r="9.6" fill="#7570B3" fill-opacity="0.5" stroke="#7570B3" stroke-opacity="0.25" stroke-width="1.2"/>
<circle cx="948.83" cy="363.65" r="9.6" fill="#7570B3" fill-opacity="0.5" stroke="#7570B3" stroke-opacity="0.25" stroke-width="1.2"/>
<circle cx="999.07" cy="351.48" r="9.6" fill="#7570B3" fill-opacity="0.5" stroke="#7570B3" stroke-opacity="0.25" stroke-width="1.2"/>
<circle cx="922.86" cy="372.46" r="9.6" fill="#7570B3" fill-opacity="0.5" stroke="#7570B3" stroke-opacity="0.25" stroke-width="1.2"/>
<circle cx="926" cy="358.17" r="9.6" fill="#7570B3" fill-opacity="0.5" stroke="#7570B3" stroke-opacity="0.25" stroke-width="1.2"/>
<circle cx="1021.85" cy="339.01" r="9.6" fill="#7570B3" fill-opacity="0.5" stroke="#7570B3" stroke-opacity="0.25" stroke-width="1.2"/>
<circle cx="972.36" cy="363.42" r="9.6" fill="#7570B3" fill-opacity="0.5" stroke="#7570B3" stroke-opacity="0.25" stroke-width="1.2"/>
<circle cx="1000.74" cy="353.82" r="9.6" fill="#7570B3" fill-opacity="0.5" stroke="#7570B3" stroke-opacity="0.25" stroke-width="1.2"/>
<circle cx="1005.2" cy="349.93" r="9.6" fill="#7570B3" fill-opacity="0.5" stroke="#7570B3" stroke-opacity="0.25" stroke-width="1.2"/>
<circle cx="974.72" cy="355.79" r="9.6" fill="#7570B3" fill-opacity="0.5" stroke="#7570B3" stroke-opacity="0.25" stroke-width="1.2"/>
<circle cx="969.74" cy="356.88" r="9.6" fill="#7570B3" fill-opacity="0.5" stroke="#7570B3" stroke-opacity="0.25" stroke-width="1.2"/>
<line x1="904.3" y1="373.2" x2="1182.5" y2="315.4" stroke="#7570B3" stroke-width="5"/>
</g>
<rect x="891.55" y="202.05" width="304" height="242.4" fill="none" stroke="#333333" stroke-width="2.9"/>
<line x1="899.1" y1="445.9" x2="899.1" y2="456.9" stroke="#333333" stroke-width="4.4"/>
<text x="899.1" y="493.5" font-family="'Liberation Sans', Arial, sans-serif" font-size="38.3" fill="#4D4D4D" text-anchor="middle">−2</text>
<line x1="999.1" y1="445.9" x2="999.1" y2="456.9" stroke="#333333" stroke-width="4.4"/>
<text x="999.1" y="493.5" font-family="'Liberation Sans', Arial, sans-serif" font-size="38.3" fill="#4D4D4D" text-anchor="middle">0</text>
<line x1="1099.1" y1="445.9" x2="1099.1" y2="456.9" stroke="#333333" stroke-width="4.4"/>
<text x="1099.1" y="493.5" font-family="'Liberation Sans', Arial, sans-serif" font-size="38.3" fill="#4D4D4D" text-anchor="middle">2</text>
<line x1="967.3" y1="115.6" x2="967.3" y2="127.1" stroke="#333333" stroke-width="4.4"/>
<text x="967.3" y="105.6" font-family="'Liberation Sans', Arial, sans-serif" font-size="38.3" fill="#4D4D4D" text-anchor="middle">1</text>
<line x1="1059" y1="115.6" x2="1059" y2="127.1" stroke="#333333" stroke-width="4.4"/>
<text x="1059" y="105.6" font-family="'Liberation Sans', Arial, sans-serif" font-size="38.3" fill="#4D4D4D" text-anchor="middle">2</text>
<line x1="1151.1" y1="115.6" x2="1151.1" y2="127.1" stroke="#333333" stroke-width="4.4"/>
<text x="1151.1" y="105.6" font-family="'Liberation Sans', Arial, sans-serif" font-size="38.3" fill="#4D4D4D" text-anchor="middle">3</text>
<rect x="1220.55" y="128.55" width="304" height="70.6" fill="#D9D9D9" stroke="#333333" stroke-width="2.9"/>
<text x="1372.55" y="177.8" font-family="'Liberation Sans', Arial, sans-serif" font-size="38.3" fill="#1A1A1A" text-anchor="middle">River valley</text>
<g clip-path="url(#pc3)">
<rect x="1219.1" y="200.6" width="306.9" height="245.3" fill="#fff"/>
<line x1="1178.1" y1="200.6" x2="1178.1" y2="445.9" stroke="#EBEBEB" stroke-width="2.2"/>
<line x1="1278.1" y1="200.6" x2="1278.1" y2="445.9" stroke="#EBEBEB" stroke-width="2.2"/>
<line x1="1378.1" y1="200.6" x2="1378.1" y2="445.9" stroke="#EBEBEB" stroke-width="2.2"/>
<line x1="1478.1" y1="200.6" x2="1478.1" y2="445.9" stroke="#EBEBEB" stroke-width="2.2"/>
<line x1="1219.1" y1="440.85" x2="1526" y2="440.85" stroke="#EBEBEB" stroke-width="2.2"/>
<line x1="1219.1" y1="382.95" x2="1526" y2="382.95" stroke="#EBEBEB" stroke-width="2.2"/>
<line x1="1219.1" y1="325.05" x2="1526" y2="325.05" stroke="#EBEBEB" stroke-width="2.2"/>
<line x1="1219.1" y1="267.15" x2="1526" y2="267.15" stroke="#EBEBEB" stroke-width="2.2"/>
<line x1="1219.1" y1="209.25" x2="1526" y2="209.25" stroke="#EBEBEB" stroke-width="2.2"/>
<line x1="1228.1" y1="200.6" x2="1228.1" y2="445.9" stroke="#EBEBEB" stroke-width="4.4"/>
<line x1="1328.1" y1="200.6" x2="1328.1" y2="445.9" stroke="#EBEBEB" stroke-width="4.4"/>
<line x1="1428.1" y1="200.6" x2="1428.1" y2="445.9" stroke="#EBEBEB" stroke-width="4.4"/>
<line x1="1219.1" y1="411.9" x2="1526" y2="411.9" stroke="#EBEBEB" stroke-width="4.4"/>
<line x1="1219.1" y1="354" x2="1526" y2="354" stroke="#EBEBEB" stroke-width="4.4"/>
<line x1="1219.1" y1="296.1" x2="1526" y2="296.1" stroke="#EBEBEB" stroke-width="4.4"/>
<line x1="1219.1" y1="238.2" x2="1526" y2="238.2" stroke="#EBEBEB" stroke-width="4.4"/>
<path d="M1233.3,369.1 L1234.8,368.66 L1236.31,368.43 L1237.81,368.08 L1239.32,368.07 L1240.82,367.69 L1242.32,367.54 L1243.83,366.99 L1245.33,366.43 L1246.83,365.89 L1248.34,365.32 L1249.84,364.59 L1251.35,363.92 L1252.85,363.31 L1254.35,362.56 L1255.86,362.03 L1257.36,361.39 L1258.86,360.87 L1260.37,360.21 L1261.87,359.63 L1263.38,359.12 L1264.88,358.59 L1266.38,358.17 L1267.89,357.61 L1269.39,356.81 L1270.89,355.97 L1272.4,355.07 L1273.9,354.45 L1275.41,353.65 L1276.91,353.01 L1278.41,352.58 L1279.92,352.4 L1281.42,351.78 L1282.92,351.48 L1284.43,350.69 L1285.93,350.05 L1287.44,349.25 L1288.94,348.48 L1290.44,348.1 L1291.95,347.18 L1293.45,346.77 L1294.96,346.54 L1296.46,346.3 L1297.96,345.69 L1299.47,345.03 L1300.97,344.61 L1302.47,343.59 L1303.98,342.62 L1305.48,341.94 L1306.99,341.22 L1308.49,340.43 L1309.99,339.97 L1311.5,339.26 L1313,338.52 L1314.5,338.23 L1316.01,337.81 L1317.51,337.41 L1319.02,336.37 L1320.52,335.58 L1322.02,334.86 L1323.53,334.37 L1325.03,333.83 L1326.53,333.33 L1328.04,332.72 L1329.54,332.31 L1331.05,331.14 L1332.55,330.6 L1334.05,329.64 L1335.56,328.96 L1337.06,328.28 L1338.56,327.53 L1340.07,327.15 L1341.57,326.82 L1343.08,325.87 L1344.58,324.95 L1346.08,324.02 L1347.59,323.44 L1349.09,322.8 L1350.6,322.15 L1352.1,321.7 L1353.6,320.54 L1355.11,319.92 L1356.61,318.8 L1358.11,318.24 L1359.62,317.5 L1361.12,317.23 L1362.63,316.33 L1364.13,315.86 L1365.63,315.26 L1367.14,314.81 L1368.64,314.25 L1370.14,313.59 L1371.65,312.66 L1373.15,312.04 L1374.66,311.3 L1376.16,310.37 L1377.66,309.57 L1379.17,309.34 L1380.67,309.11 L1382.17,308.32 L1383.68,307.79 L1385.18,306.57 L1386.69,305.58 L1388.19,304.61 L1389.69,303.39 L1391.2,301.82 L1392.7,300.72 L1394.2,299.54 L1395.71,298.98 L1397.21,297.6 L1398.72,297.15 L1400.22,295.8 L1401.72,294.91 L1403.23,294.19 L1404.73,293.69 L1406.24,293.17 L1407.74,292.07 L1409.24,291.16 L1410.75,290.87 L1412.25,290.37 L1413.75,289.58 L1415.26,288.69 L1416.76,287.99 L1418.27,287.23 L1419.77,287.16 L1421.27,286.51 L1422.78,284.82 L1424.28,285 L1425.78,284.91 L1427.29,284.69 L1428.79,283.62 L1430.3,281.14 L1431.8,278.86 L1433.3,278.19 L1434.81,276.34 L1436.31,275.75 L1437.81,274.43 L1439.32,274.9 L1440.82,274.39 L1442.33,274.4 L1443.83,274.81 L1445.33,273.33 L1446.84,271.96 L1448.34,270.65 L1449.84,269.54 L1451.35,267.91 L1452.85,266.35 L1454.36,265.72 L1455.86,264.6 L1457.36,262.55 L1458.87,261.52 L1460.37,259.87 L1461.88,259.28 L1463.38,257.33 L1464.88,255.67 L1466.39,254.78 L1467.89,254.03 L1469.39,253.13 L1470.9,252.58 L1472.4,253.42 L1473.91,253.08 L1475.41,252.52 L1476.91,251.26 L1478.42,248.47 L1479.92,245.72 L1481.42,245.06 L1482.93,244.49 L1484.43,243.6 L1485.94,241.83 L1487.44,241.82 L1488.94,239.81 L1490.45,238.62 L1491.95,235.75 L1493.45,232.73 L1494.96,232.54 L1496.46,232.42 L1497.97,230.67 L1499.47,229.4 L1500.97,229.22 L1502.48,228.34 L1503.98,223.67 L1505.48,219.7 L1506.99,218.36 L1508.49,217.75 L1510,216.93 L1511.5,217.9 L1511.5,364.5 L1510,364.62 L1508.49,364.54 L1506.99,363.95 L1505.48,363.98 L1503.98,363.05 L1502.48,362.93 L1500.97,361.21 L1499.47,361.75 L1497.97,362.38 L1496.46,362.64 L1494.96,360.71 L1493.45,361.12 L1491.95,360.57 L1490.45,359.01 L1488.94,358.34 L1487.44,358.41 L1485.94,358.04 L1484.43,357.93 L1482.93,356.66 L1481.42,357.03 L1479.92,356.29 L1478.42,356.56 L1476.91,357 L1475.41,356.6 L1473.91,355.83 L1472.4,355.18 L1470.9,354.91 L1469.39,354.48 L1467.89,353.84 L1466.39,353.92 L1464.88,354.23 L1463.38,354.25 L1461.88,354.18 L1460.37,355.37 L1458.87,355.05 L1457.36,353.8 L1455.86,353.74 L1454.36,354.69 L1452.85,354.31 L1451.35,354.37 L1449.84,353.69 L1448.34,354.19 L1446.84,353.64 L1445.33,353.56 L1443.83,353.43 L1442.33,353.67 L1440.82,353.48 L1439.32,353.67 L1437.81,352.96 L1436.31,352.62 L1434.81,351.99 L1433.3,351.33 L1431.8,351.78 L1430.3,351.85 L1428.79,352.09 L1427.29,351.79 L1425.78,352.04 L1424.28,351.39 L1422.78,351.18 L1421.27,350.98 L1419.77,351.29 L1418.27,350.55 L1416.76,351.29 L1415.26,351.57 L1413.75,351.34 L1412.25,351.55 L1410.75,352.25 L1409.24,352.07 L1407.74,351.48 L1406.24,351.7 L1404.73,352.09 L1403.23,352.65 L1401.72,353.5 L1400.22,353.42 L1398.72,353.78 L1397.21,354.14 L1395.71,353.9 L1394.2,353.54 L1392.7,353.89 L1391.2,354.43 L1389.69,354.21 L1388.19,354.31 L1386.69,354.32 L1385.18,353.97 L1383.68,354.5 L1382.17,354.8 L1380.67,354.88 L1379.17,354.6 L1377.66,354.89 L1376.16,354.93 L1374.66,355.18 L1373.15,355.1 L1371.65,355.11 L1370.14,355.93 L1368.64,355.94 L1367.14,356.36 L1365.63,356.38 L1364.13,357.08 L1362.63,357.1 L1361.12,357.88 L1359.62,357.74 L1358.11,357.8 L1356.61,358.55 L1355.11,359.03 L1353.6,359.07 L1352.1,358.95 L1350.6,359.44 L1349.09,359.5 L1347.59,359.82 L1346.08,360.19 L1344.58,360.3 L1343.08,360.78 L1341.57,361.63 L1340.07,361.82 L1338.56,361.96 L1337.06,362.71 L1335.56,363.02 L1334.05,362.79 L1332.55,362.71 L1331.05,362.67 L1329.54,362.86 L1328.04,363.03 L1326.53,364.01 L1325.03,364.36 L1323.53,364.87 L1322.02,365.37 L1320.52,365.85 L1319.02,365.95 L1317.51,366.16 L1316.01,366.48 L1314.5,367.15 L1313,367.67 L1311.5,367.95 L1309.99,367.95 L1308.49,368.27 L1306.99,368.34 L1305.48,368.78 L1303.98,368.97 L1302.47,369.36 L1300.97,369.87 L1299.47,370.4 L1297.96,370.56 L1296.46,370.64 L1294.96,371.13 L1293.45,371.13 L1291.95,371.8 L1290.44,371.7 L1288.94,371.76 L1287.44,372.3 L1285.93,372.87 L1284.43,373.17 L1282.92,373.39 L1281.42,373.37 L1279.92,373.59 L1278.41,373.6 L1276.91,373.49 L1275.41,373.7 L1273.9,373.67 L1272.4,374.17 L1270.89,374.21 L1269.39,374.84 L1267.89,375.27 L1266.38,375.01 L1264.88,375.25 L1263.38,375.56 L1261.87,376.21 L1260.37,376.34 L1258.86,376.69 L1257.36,377.05 L1255.86,377.1 L1254.35,377.62 L1252.85,378.01 L1251.35,378.49 L1249.84,379.2 L1248.34,379.32 L1246.83,379.61 L1245.33,379.83 L1243.83,380.31 L1242.32,380.82 L1240.82,381.11 L1239.32,381.71 L1237.81,381.91 L1236.31,382.03 L1234.8,382.37 L1233.3,382.4 Z" fill="#66A61E" fill-opacity="0.35" stroke="none"/>
<path d="M1233.3,369.1 L1234.8,368.66 L1236.31,368.43 L1237.81,368.08 L1239.32,368.07 L1240.82,367.69 L1242.32,367.54 L1243.83,366.99 L1245.33,366.43 L1246.83,365.89 L1248.34,365.32 L1249.84,364.59 L1251.35,363.92 L1252.85,363.31 L1254.35,362.56 L1255.86,362.03 L1257.36,361.39 L1258.86,360.87 L1260.37,360.21 L1261.87,359.63 L1263.38,359.12 L1264.88,358.59 L1266.38,358.17 L1267.89,357.61 L1269.39,356.81 L1270.89,355.97 L1272.4,355.07 L1273.9,354.45 L1275.41,353.65 L1276.91,353.01 L1278.41,352.58 L1279.92,352.4 L1281.42,351.78 L1282.92,351.48 L1284.43,350.69 L1285.93,350.05 L1287.44,349.25 L1288.94,348.48 L1290.44,348.1 L1291.95,347.18 L1293.45,346.77 L1294.96,346.54 L1296.46,346.3 L1297.96,345.69 L1299.47,345.03 L1300.97,344.61 L1302.47,343.59 L1303.98,342.62 L1305.48,341.94 L1306.99,341.22 L1308.49,340.43 L1309.99,339.97 L1311.5,339.26 L1313,338.52 L1314.5,338.23 L1316.01,337.81 L1317.51,337.41 L1319.02,336.37 L1320.52,335.58 L1322.02,334.86 L1323.53,334.37 L1325.03,333.83 L1326.53,333.33 L1328.04,332.72 L1329.54,332.31 L1331.05,331.14 L1332.55,330.6 L1334.05,329.64 L1335.56,328.96 L1337.06,328.28 L1338.56,327.53 L1340.07,327.15 L1341.57,326.82 L1343.08,325.87 L1344.58,324.95 L1346.08,324.02 L1347.59,323.44 L1349.09,322.8 L1350.6,322.15 L1352.1,321.7 L1353.6,320.54 L1355.11,319.92 L1356.61,318.8 L1358.11,318.24 L1359.62,317.5 L1361.12,317.23 L1362.63,316.33 L1364.13,315.86 L1365.63,315.26 L1367.14,314.81 L1368.64,314.25 L1370.14,313.59 L1371.65,312.66 L1373.15,312.04 L1374.66,311.3 L1376.16,310.37 L1377.66,309.57 L1379.17,309.34 L1380.67,309.11 L1382.17,308.32 L1383.68,307.79 L1385.18,306.57 L1386.69,305.58 L1388.19,304.61 L1389.69,303.39 L1391.2,301.82 L1392.7,300.72 L1394.2,299.54 L1395.71,298.98 L1397.21,297.6 L1398.72,297.15 L1400.22,295.8 L1401.72,294.91 L1403.23,294.19 L1404.73,293.69 L1406.24,293.17 L1407.74,292.07 L1409.24,291.16 L1410.75,290.87 L1412.25,290.37 L1413.75,289.58 L1415.26,288.69 L1416.76,287.99 L1418.27,287.23 L1419.77,287.16 L1421.27,286.51 L1422.78,284.82 L1424.28,285 L1425.78,284.91 L1427.29,284.69 L1428.79,283.62 L1430.3,281.14 L1431.8,278.86 L1433.3,278.19 L1434.81,276.34 L1436.31,275.75 L1437.81,274.43 L1439.32,274.9 L1440.82,274.39 L1442.33,274.4 L1443.83,274.81 L1445.33,273.33 L1446.84,271.96 L1448.34,270.65 L1449.84,269.54 L1451.35,267.91 L1452.85,266.35 L1454.36,265.72 L1455.86,264.6 L1457.36,262.55 L1458.87,261.52 L1460.37,259.87 L1461.88,259.28 L1463.38,257.33 L1464.88,255.67 L1466.39,254.78 L1467.89,254.03 L1469.39,253.13 L1470.9,252.58 L1472.4,253.42 L1473.91,253.08 L1475.41,252.52 L1476.91,251.26 L1478.42,248.47 L1479.92,245.72 L1481.42,245.06 L1482.93,244.49 L1484.43,243.6 L1485.94,241.83 L1487.44,241.82 L1488.94,239.81 L1490.45,238.62 L1491.95,235.75 L1493.45,232.73 L1494.96,232.54 L1496.46,232.42 L1497.97,230.67 L1499.47,229.4 L1500.97,229.22 L1502.48,228.34 L1503.98,223.67 L1505.48,219.7 L1506.99,218.36 L1508.49,217.75 L1510,216.93 L1511.5,217.9" fill="none" stroke="#fff" stroke-width="3.2" stroke-linejoin="round"/>
<path d="M1233.3,382.4 L1234.8,382.37 L1236.31,382.03 L1237.81,381.91 L1239.32,381.71 L1240.82,381.11 L1242.32,380.82 L1243.83,380.31 L1245.33,379.83 L1246.83,379.61 L1248.34,379.32 L1249.84,379.2 L1251.35,378.49 L1252.85,378.01 L1254.35,377.62 L1255.86,377.1 L1257.36,377.05 L1258.86,376.69 L1260.37,376.34 L1261.87,376.21 L1263.38,375.56 L1264.88,375.25 L1266.38,375.01 L1267.89,375.27 L1269.39,374.84 L1270.89,374.21 L1272.4,374.17 L1273.9,373.67 L1275.41,373.7 L1276.91,373.49 L1278.41,373.6 L1279.92,373.59 L1281.42,373.37 L1282.92,373.39 L1284.43,373.17 L1285.93,372.87 L1287.44,372.3 L1288.94,371.76 L1290.44,371.7 L1291.95,371.8 L1293.45,371.13 L1294.96,371.13 L1296.46,370.64 L1297.96,370.56 L1299.47,370.4 L1300.97,369.87 L1302.47,369.36 L1303.98,368.97 L1305.48,368.78 L1306.99,368.34 L1308.49,368.27 L1309.99,367.95 L1311.5,367.95 L1313,367.67 L1314.5,367.15 L1316.01,366.48 L1317.51,366.16 L1319.02,365.95 L1320.52,365.85 L1322.02,365.37 L1323.53,364.87 L1325.03,364.36 L1326.53,364.01 L1328.04,363.03 L1329.54,362.86 L1331.05,362.67 L1332.55,362.71 L1334.05,362.79 L1335.56,363.02 L1337.06,362.71 L1338.56,361.96 L1340.07,361.82 L1341.57,361.63 L1343.08,360.78 L1344.58,360.3 L1346.08,360.19 L1347.59,359.82 L1349.09,359.5 L1350.6,359.44 L1352.1,358.95 L1353.6,359.07 L1355.11,359.03 L1356.61,358.55 L1358.11,357.8 L1359.62,357.74 L1361.12,357.88 L1362.63,357.1 L1364.13,357.08 L1365.63,356.38 L1367.14,356.36 L1368.64,355.94 L1370.14,355.93 L1371.65,355.11 L1373.15,355.1 L1374.66,355.18 L1376.16,354.93 L1377.66,354.89 L1379.17,354.6 L1380.67,354.88 L1382.17,354.8 L1383.68,354.5 L1385.18,353.97 L1386.69,354.32 L1388.19,354.31 L1389.69,354.21 L1391.2,354.43 L1392.7,353.89 L1394.2,353.54 L1395.71,353.9 L1397.21,354.14 L1398.72,353.78 L1400.22,353.42 L1401.72,353.5 L1403.23,352.65 L1404.73,352.09 L1406.24,351.7 L1407.74,351.48 L1409.24,352.07 L1410.75,352.25 L1412.25,351.55 L1413.75,351.34 L1415.26,351.57 L1416.76,351.29 L1418.27,350.55 L1419.77,351.29 L1421.27,350.98 L1422.78,351.18 L1424.28,351.39 L1425.78,352.04 L1427.29,351.79 L1428.79,352.09 L1430.3,351.85 L1431.8,351.78 L1433.3,351.33 L1434.81,351.99 L1436.31,352.62 L1437.81,352.96 L1439.32,353.67 L1440.82,353.48 L1442.33,353.67 L1443.83,353.43 L1445.33,353.56 L1446.84,353.64 L1448.34,354.19 L1449.84,353.69 L1451.35,354.37 L1452.85,354.31 L1454.36,354.69 L1455.86,353.74 L1457.36,353.8 L1458.87,355.05 L1460.37,355.37 L1461.88,354.18 L1463.38,354.25 L1464.88,354.23 L1466.39,353.92 L1467.89,353.84 L1469.39,354.48 L1470.9,354.91 L1472.4,355.18 L1473.91,355.83 L1475.41,356.6 L1476.91,357 L1478.42,356.56 L1479.92,356.29 L1481.42,357.03 L1482.93,356.66 L1484.43,357.93 L1485.94,358.04 L1487.44,358.41 L1488.94,358.34 L1490.45,359.01 L1491.95,360.57 L1493.45,361.12 L1494.96,360.71 L1496.46,362.64 L1497.97,362.38 L1499.47,361.75 L1500.97,361.21 L1502.48,362.93 L1503.98,363.05 L1505.48,363.98 L1506.99,363.95 L1508.49,364.54 L1510,364.62 L1511.5,364.5" fill="none" stroke="#fff" stroke-width="3.2" stroke-linejoin="round"/>
<circle cx="1256.89" cy="363.97" r="9.6" fill="#66A61E" fill-opacity="0.5" stroke="#66A61E" stroke-opacity="0.25" stroke-width="1.2"/>
<circle cx="1263.04" cy="370.12" r="9.6" fill="#66A61E" fill-opacity="0.5" stroke="#66A61E" stroke-opacity="0.25" stroke-width="1.2"/>
<circle cx="1269.19" cy="351.67" r="9.6" fill="#66A61E" fill-opacity="0.5" stroke="#66A61E" stroke-opacity="0.25" stroke-width="1.2"/>
<circle cx="1271.24" cy="366.02" r="9.6" fill="#66A61E" fill-opacity="0.5" stroke="#66A61E" stroke-opacity="0.25" stroke-width="1.2"/>
<circle cx="1277.39" cy="359.87" r="9.6" fill="#66A61E" fill-opacity="0.5" stroke="#66A61E" stroke-opacity="0.25" stroke-width="1.2"/>
<circle cx="1283.54" cy="341.42" r="9.6" fill="#66A61E" fill-opacity="0.5" stroke="#66A61E" stroke-opacity="0.25" stroke-width="1.2"/>
<circle cx="1285.59" cy="363.97" r="9.6" fill="#66A61E" fill-opacity="0.5" stroke="#66A61E" stroke-opacity="0.25" stroke-width="1.2"/>
<circle cx="1293.79" cy="355.77" r="9.6" fill="#66A61E" fill-opacity="0.5" stroke="#66A61E" stroke-opacity="0.25" stroke-width="1.2"/>
<circle cx="1297.88" cy="343.47" r="9.6" fill="#66A61E" fill-opacity="0.5" stroke="#66A61E" stroke-opacity="0.25" stroke-width="1.2"/>
<circle cx="1299.93" cy="361.92" r="9.6" fill="#66A61E" fill-opacity="0.5" stroke="#66A61E" stroke-opacity="0.25" stroke-width="1.2"/>
<circle cx="1306.08" cy="351.67" r="9.6" fill="#66A61E" fill-opacity="0.5" stroke="#66A61E" stroke-opacity="0.25" stroke-width="1.2"/>
<circle cx="1312.23" cy="363.97" r="9.6" fill="#66A61E" fill-opacity="0.5" stroke="#66A61E" stroke-opacity="0.25" stroke-width="1.2"/>
<circle cx="1316.33" cy="355.77" r="9.6" fill="#66A61E" fill-opacity="0.5" stroke="#66A61E" stroke-opacity="0.25" stroke-width="1.2"/>
<circle cx="1322.48" cy="333.22" r="9.6" fill="#66A61E" fill-opacity="0.5" stroke="#66A61E" stroke-opacity="0.25" stroke-width="1.2"/>
<circle cx="1326.58" cy="343.47" r="9.6" fill="#66A61E" fill-opacity="0.5" stroke="#66A61E" stroke-opacity="0.25" stroke-width="1.2"/>
<circle cx="1330.68" cy="351.67" r="9.6" fill="#66A61E" fill-opacity="0.5" stroke="#66A61E" stroke-opacity="0.25" stroke-width="1.2"/>
<circle cx="1334.78" cy="339.37" r="9.6" fill="#66A61E" fill-opacity="0.5" stroke="#66A61E" stroke-opacity="0.25" stroke-width="1.2"/>
<circle cx="1340.93" cy="322.98" r="9.6" fill="#66A61E" fill-opacity="0.5" stroke="#66A61E" stroke-opacity="0.25" stroke-width="1.2"/>
<circle cx="1345.03" cy="320.93" r="9.6" fill="#66A61E" fill-opacity="0.5" stroke="#66A61E" stroke-opacity="0.25" stroke-width="1.2"/>
<circle cx="1347.08" cy="335.27" r="9.6" fill="#66A61E" fill-opacity="0.5" stroke="#66A61E" stroke-opacity="0.25" stroke-width="1.2"/>
<circle cx="1351.17" cy="343.47" r="9.6" fill="#66A61E" fill-opacity="0.5" stroke="#66A61E" stroke-opacity="0.25" stroke-width="1.2"/>
<circle cx="1353.22" cy="331.17" r="9.6" fill="#66A61E" fill-opacity="0.5" stroke="#66A61E" stroke-opacity="0.25" stroke-width="1.2"/>
<circle cx="1359.37" cy="343.47" r="9.6" fill="#66A61E" fill-opacity="0.5" stroke="#66A61E" stroke-opacity="0.25" stroke-width="1.2"/>
<circle cx="1363.47" cy="349.62" r="9.6" fill="#66A61E" fill-opacity="0.5" stroke="#66A61E" stroke-opacity="0.25" stroke-width="1.2"/>
<circle cx="1367.57" cy="355.77" r="9.6" fill="#66A61E" fill-opacity="0.5" stroke="#66A61E" stroke-opacity="0.25" stroke-width="1.2"/>
<circle cx="1373.72" cy="324" r="9.6" fill="#66A61E" fill-opacity="0.5" stroke="#66A61E" stroke-opacity="0.25" stroke-width="1.2"/>
<circle cx="1342.98" cy="353.72" r="9.6" fill="#66A61E" fill-opacity="0.5" stroke="#66A61E" stroke-opacity="0.25" stroke-width="1.2"/>
<circle cx="1334.78" cy="357.82" r="9.6" fill="#66A61E" fill-opacity="0.5" stroke="#66A61E" stroke-opacity="0.25" stroke-width="1.2"/>
<circle cx="1314.28" cy="368.07" r="9.6" fill="#66A61E" fill-opacity="0.5" stroke="#66A61E" stroke-opacity="0.25" stroke-width="1.2"/>
<circle cx="1289.69" cy="368.07" r="9.6" fill="#66A61E" fill-opacity="0.5" stroke="#66A61E" stroke-opacity="0.25" stroke-width="1.2"/>
<circle cx="1275.34" cy="372.17" r="9.6" fill="#66A61E" fill-opacity="0.5" stroke="#66A61E" stroke-opacity="0.25" stroke-width="1.2"/>
<circle cx="1260.99" cy="361.92" r="9.6" fill="#66A61E" fill-opacity="0.5" stroke="#66A61E" stroke-opacity="0.25" stroke-width="1.2"/>
<circle cx="1287.64" cy="351.67" r="9.6" fill="#66A61E" fill-opacity="0.5" stroke="#66A61E" stroke-opacity="0.25" stroke-width="1.2"/>
<circle cx="1308.13" cy="339.37" r="9.6" fill="#66A61E" fill-opacity="0.5" stroke="#66A61E" stroke-opacity="0.25" stroke-width="1.2"/>
<circle cx="1297.98" cy="349.28" r="9.6" fill="#66A61E" fill-opacity="0.5" stroke="#66A61E" stroke-opacity="0.25" stroke-width="1.2"/>
<circle cx="1299.24" cy="353" r="9.6" fill="#66A61E" fill-opacity="0.5" stroke="#66A61E" stroke-opacity="0.25" stroke-width="1.2"/>
<circle cx="1303.24" cy="352.74" r="9.6" fill="#66A61E" fill-opacity="0.5" stroke="#66A61E" stroke-opacity="0.25" stroke-width="1.2"/>
<circle cx="1303.63" cy="353.3" r="9.6" fill="#66A61E" fill-opacity="0.5" stroke="#66A61E" stroke-opacity="0.25" stroke-width="1.2"/>
<circle cx="1314.84" cy="351.43" r="9.6" fill="#66A61E" fill-opacity="0.5" stroke="#66A61E" stroke-opacity="0.25" stroke-width="1.2"/>
<circle cx="1283.82" cy="358.86" r="9.6" fill="#66A61E" fill-opacity="0.5" stroke="#66A61E" stroke-opacity="0.25" stroke-width="1.2"/>
<circle cx="1263.61" cy="368.02" r="9.6" fill="#66A61E" fill-opacity="0.5" stroke="#66A61E" stroke-opacity="0.25" stroke-width="1.2"/>
<circle cx="1258.98" cy="363.01" r="9.6" fill="#66A61E" fill-opacity="0.5" stroke="#66A61E" stroke-opacity="0.25" stroke-width="1.2"/>
<circle cx="1348.31" cy="345.68" r="9.6" fill="#66A61E" fill-opacity="0.5" stroke="#66A61E" stroke-opacity="0.25" stroke-width="1.2"/>
<circle cx="1313.48" cy="350.43" r="9.6" fill="#66A61E" fill-opacity="0.5" stroke="#66A61E" stroke-opacity="0.25" stroke-width="1.2"/>
<circle cx="1269.96" cy="368.25" r="9.6" fill="#66A61E" fill-opacity="0.5" stroke="#66A61E" stroke-opacity="0.25" stroke-width="1.2"/>
<circle cx="1260.66" cy="367.47" r="9.6" fill="#66A61E" fill-opacity="0.5" stroke="#66A61E" stroke-opacity="0.25" stroke-width="1.2"/>
<circle cx="1273.07" cy="363.46" r="9.6" fill="#66A61E" fill-opacity="0.5" stroke="#66A61E" stroke-opacity="0.25" stroke-width="1.2"/>
<circle cx="1299.07" cy="356.51" r="9.6" fill="#66A61E" fill-opacity="0.5" stroke="#66A61E" stroke-opacity="0.25" stroke-width="1.2"/>
<circle cx="1296.85" cy="358.5" r="9.6" fill="#66A61E" fill-opacity="0.5" stroke="#66A61E" stroke-opacity="0.25" stroke-width="1.2"/>
<circle cx="1315.83" cy="347.52" r="9.6" fill="#66A61E" fill-opacity="0.5" stroke="#66A61E" stroke-opacity="0.25" stroke-width="1.2"/>
<circle cx="1302.48" cy="352.86" r="9.6" fill="#66A61E" fill-opacity="0.5" stroke="#66A61E" stroke-opacity="0.25" stroke-width="1.2"/>
<circle cx="1281.43" cy="357.93" r="9.6" fill="#66A61E" fill-opacity="0.5" stroke="#66A61E" stroke-opacity="0.25" stroke-width="1.2"/>
<circle cx="1349.78" cy="346.83" r="9.6" fill="#66A61E" fill-opacity="0.5" stroke="#66A61E" stroke-opacity="0.25" stroke-width="1.2"/>
<circle cx="1322.24" cy="348.69" r="9.6" fill="#66A61E" fill-opacity="0.5" stroke="#66A61E" stroke-opacity="0.25" stroke-width="1.2"/>
<circle cx="1284.95" cy="360.24" r="9.6" fill="#66A61E" fill-opacity="0.5" stroke="#66A61E" stroke-opacity="0.25" stroke-width="1.2"/>
<circle cx="1261.67" cy="369.42" r="9.6" fill="#66A61E" fill-opacity="0.5" stroke="#66A61E" stroke-opacity="0.25" stroke-width="1.2"/>
<circle cx="1327.8" cy="342.19" r="9.6" fill="#66A61E" fill-opacity="0.5" stroke="#66A61E" stroke-opacity="0.25" stroke-width="1.2"/>
<circle cx="1291.72" cy="361.53" r="9.6" fill="#66A61E" fill-opacity="0.5" stroke="#66A61E" stroke-opacity="0.25" stroke-width="1.2"/>
<circle cx="1346.01" cy="341.88" r="9.6" fill="#66A61E" fill-opacity="0.5" stroke="#66A61E" stroke-opacity="0.25" stroke-width="1.2"/>
<circle cx="1274.92" cy="362.79" r="9.6" fill="#66A61E" fill-opacity="0.5" stroke="#66A61E" stroke-opacity="0.25" stroke-width="1.2"/>
<circle cx="1341.48" cy="334.35" r="9.6" fill="#66A61E" fill-opacity="0.5" stroke="#66A61E" stroke-opacity="0.25" stroke-width="1.2"/>
<circle cx="1292.76" cy="359.27" r="9.6" fill="#66A61E" fill-opacity="0.5" stroke="#66A61E" stroke-opacity="0.25" stroke-width="1.2"/>
<circle cx="1261.94" cy="362.9" r="9.6" fill="#66A61E" fill-opacity="0.5" stroke="#66A61E" stroke-opacity="0.25" stroke-width="1.2"/>
<circle cx="1280.63" cy="357.14" r="9.6" fill="#66A61E" fill-opacity="0.5" stroke="#66A61E" stroke-opacity="0.25" stroke-width="1.2"/>
<circle cx="1263.28" cy="362.23" r="9.6" fill="#66A61E" fill-opacity="0.5" stroke="#66A61E" stroke-opacity="0.25" stroke-width="1.2"/>
<circle cx="1327.01" cy="354.61" r="9.6" fill="#66A61E" fill-opacity="0.5" stroke="#66A61E" stroke-opacity="0.25" stroke-width="1.2"/>
<circle cx="1266.21" cy="365.49" r="9.6" fill="#66A61E" fill-opacity="0.5" stroke="#66A61E" stroke-opacity="0.25" stroke-width="1.2"/>
<circle cx="1260.69" cy="368.56" r="9.6" fill="#66A61E" fill-opacity="0.5" stroke="#66A61E" stroke-opacity="0.25" stroke-width="1.2"/>
<circle cx="1330.72" cy="348.14" r="9.6" fill="#66A61E" fill-opacity="0.5" stroke="#66A61E" stroke-opacity="0.25" stroke-width="1.2"/>
<circle cx="1297.51" cy="359.86" r="9.6" fill="#66A61E" fill-opacity="0.5" stroke="#66A61E" stroke-opacity="0.25" stroke-width="1.2"/>
<circle cx="1273.12" cy="363.21" r="9.6" fill="#66A61E" fill-opacity="0.5" stroke="#66A61E" stroke-opacity="0.25" stroke-width="1.2"/>
<circle cx="1316.15" cy="348.98" r="9.6" fill="#66A61E" fill-opacity="0.5" stroke="#66A61E" stroke-opacity="0.25" stroke-width="1.2"/>
<circle cx="1269.27" cy="350.48" r="9.6" fill="#66A61E" fill-opacity="0.5" stroke="#66A61E" stroke-opacity="0.25" stroke-width="1.2"/>
<circle cx="1284.36" cy="342.43" r="9.6" fill="#66A61E" fill-opacity="0.5" stroke="#66A61E" stroke-opacity="0.25" stroke-width="1.2"/>
<circle cx="1299.45" cy="343.44" r="9.6" fill="#66A61E" fill-opacity="0.5" stroke="#66A61E" stroke-opacity="0.25" stroke-width="1.2"/>
<circle cx="1322.59" cy="335.39" r="9.6" fill="#66A61E" fill-opacity="0.5" stroke="#66A61E" stroke-opacity="0.25" stroke-width="1.2"/>
<circle cx="1342.71" cy="323.32" r="9.6" fill="#66A61E" fill-opacity="0.5" stroke="#66A61E" stroke-opacity="0.25" stroke-width="1.2"/>
<circle cx="1346.73" cy="321.31" r="9.6" fill="#66A61E" fill-opacity="0.5" stroke="#66A61E" stroke-opacity="0.25" stroke-width="1.2"/>
<circle cx="1354.78" cy="334.39" r="9.6" fill="#66A61E" fill-opacity="0.5" stroke="#66A61E" stroke-opacity="0.25" stroke-width="1.2"/>
<circle cx="1365.85" cy="347.46" r="9.6" fill="#66A61E" fill-opacity="0.5" stroke="#66A61E" stroke-opacity="0.25" stroke-width="1.2"/>
<circle cx="1368.86" cy="356.52" r="9.6" fill="#66A61E" fill-opacity="0.5" stroke="#66A61E" stroke-opacity="0.25" stroke-width="1.2"/>
<circle cx="1344.72" cy="354.51" r="9.6" fill="#66A61E" fill-opacity="0.5" stroke="#66A61E" stroke-opacity="0.25" stroke-width="1.2"/>
<circle cx="1315.54" cy="368.59" r="9.6" fill="#66A61E" fill-opacity="0.5" stroke="#66A61E" stroke-opacity="0.25" stroke-width="1.2"/>
<circle cx="1305.48" cy="369.6" r="9.6" fill="#66A61E" fill-opacity="0.5" stroke="#66A61E" stroke-opacity="0.25" stroke-width="1.2"/>
<circle cx="1283.35" cy="371.61" r="9.6" fill="#66A61E" fill-opacity="0.5" stroke="#66A61E" stroke-opacity="0.25" stroke-width="1.2"/>
<circle cx="1263.23" cy="372.62" r="9.6" fill="#66A61E" fill-opacity="0.5" stroke="#66A61E" stroke-opacity="0.25" stroke-width="1.2"/>
<circle cx="1255.18" cy="363.56" r="9.6" fill="#66A61E" fill-opacity="0.5" stroke="#66A61E" stroke-opacity="0.25" stroke-width="1.2"/>
<circle cx="1267.25" cy="358.53" r="9.6" fill="#66A61E" fill-opacity="0.5" stroke="#66A61E" stroke-opacity="0.25" stroke-width="1.2"/>
<line x1="1233.3" y1="375.2" x2="1511.5" y2="292.8" stroke="#66A61E" stroke-width="5"/>
</g>
<rect x="1220.55" y="202.05" width="304" height="242.4" fill="none" stroke="#333333" stroke-width="2.9"/>
<line x1="1228.1" y1="445.9" x2="1228.1" y2="456.9" stroke="#333333" stroke-width="4.4"/>
<text x="1228.1" y="493.5" font-family="'Liberation Sans', Arial, sans-serif" font-size="38.3" fill="#4D4D4D" text-anchor="middle">−2</text>
<line x1="1328.1" y1="445.9" x2="1328.1" y2="456.9" stroke="#333333" stroke-width="4.4"/>
<text x="1328.1" y="493.5" font-family="'Liberation Sans', Arial, sans-serif" font-size="38.3" fill="#4D4D4D" text-anchor="middle">0</text>
<line x1="1428.1" y1="445.9" x2="1428.1" y2="456.9" stroke="#333333" stroke-width="4.4"/>
<text x="1428.1" y="493.5" font-family="'Liberation Sans', Arial, sans-serif" font-size="38.3" fill="#4D4D4D" text-anchor="middle">2</text>
<line x1="1296.3" y1="115.6" x2="1296.3" y2="127.1" stroke="#333333" stroke-width="4.4"/>
<text x="1296.3" y="105.6" font-family="'Liberation Sans', Arial, sans-serif" font-size="38.3" fill="#4D4D4D" text-anchor="middle">1</text>
<line x1="1388" y1="115.6" x2="1388" y2="127.1" stroke="#333333" stroke-width="4.4"/>
<text x="1388" y="105.6" font-family="'Liberation Sans', Arial, sans-serif" font-size="38.3" fill="#4D4D4D" text-anchor="middle">2</text>
<line x1="1480.1" y1="115.6" x2="1480.1" y2="127.1" stroke="#333333" stroke-width="4.4"/>
<text x="1480.1" y="105.6" font-family="'Liberation Sans', Arial, sans-serif" font-size="38.3" fill="#4D4D4D" text-anchor="middle">3</text>
<rect x="1549.55" y="128.55" width="304" height="70.6" fill="#D9D9D9" stroke="#333333" stroke-width="2.9"/>
<text x="1701.55" y="177.8" font-family="'Liberation Sans', Arial, sans-serif" font-size="38.3" fill="#1A1A1A" text-anchor="middle">Volcano</text>
<g clip-path="url(#pc4)">
<rect x="1548.1" y="200.6" width="306.9" height="245.3" fill="#fff"/>
<line x1="1507.1" y1="200.6" x2="1507.1" y2="445.9" stroke="#EBEBEB" stroke-width="2.2"/>
<line x1="1607.1" y1="200.6" x2="1607.1" y2="445.9" stroke="#EBEBEB" stroke-width="2.2"/>
<line x1="1707.1" y1="200.6" x2="1707.1" y2="445.9" stroke="#EBEBEB" stroke-width="2.2"/>
<line x1="1807.1" y1="200.6" x2="1807.1" y2="445.9" stroke="#EBEBEB" stroke-width="2.2"/>
<line x1="1548.1" y1="440.85" x2="1855" y2="440.85" stroke="#EBEBEB" stroke-width="2.2"/>
<line x1="1548.1" y1="382.95" x2="1855" y2="382.95" stroke="#EBEBEB" stroke-width="2.2"/>
<line x1="1548.1" y1="325.05" x2="1855" y2="325.05" stroke="#EBEBEB" stroke-width="2.2"/>
<line x1="1548.1" y1="267.15" x2="1855" y2="267.15" stroke="#EBEBEB" stroke-width="2.2"/>
<line x1="1548.1" y1="209.25" x2="1855" y2="209.25" stroke="#EBEBEB" stroke-width="2.2"/>
<line x1="1557.1" y1="200.6" x2="1557.1" y2="445.9" stroke="#EBEBEB" stroke-width="4.4"/>
<line x1="1657.1" y1="200.6" x2="1657.1" y2="445.9" stroke="#EBEBEB" stroke-width="4.4"/>
<line x1="1757.1" y1="200.6" x2="1757.1" y2="445.9" stroke="#EBEBEB" stroke-width="4.4"/>
<line x1="1548.1" y1="411.9" x2="1855" y2="411.9" stroke="#EBEBEB" stroke-width="4.4"/>
<line x1="1548.1" y1="354" x2="1855" y2="354" stroke="#EBEBEB" stroke-width="4.4"/>
<line x1="1548.1" y1="296.1" x2="1855" y2="296.1" stroke="#EBEBEB" stroke-width="4.4"/>
<line x1="1548.1" y1="238.2" x2="1855" y2="238.2" stroke="#EBEBEB" stroke-width="4.4"/>
<path d="M1562.3,370.1 L1563.8,369.44 L1565.31,369.65 L1566.81,369.23 L1568.32,368.88 L1569.82,368.57 L1571.32,368.44 L1572.83,368.04 L1574.33,368.04 L1575.83,367.57 L1577.34,367.05 L1578.84,366.59 L1580.35,366.38 L1581.85,366.04 L1583.35,365.56 L1584.86,365.14 L1586.36,364.55 L1587.86,364.35 L1589.37,363.85 L1590.87,363.64 L1592.38,363.4 L1593.88,362.9 L1595.38,362.07 L1596.89,361.64 L1598.39,361.31 L1599.89,360.97 L1601.4,360.48 L1602.9,360.51 L1604.41,360.35 L1605.91,360.13 L1607.41,359.87 L1608.92,359.7 L1610.42,359.08 L1611.92,358.9 L1613.43,358.26 L1614.93,357.78 L1616.44,357.34 L1617.94,356.85 L1619.44,356.5 L1620.95,356.14 L1622.45,355.82 L1623.96,355.31 L1625.46,355.08 L1626.96,354.51 L1628.47,354.05 L1629.97,353.57 L1631.47,352.9 L1632.98,352.85 L1634.48,352.57 L1635.99,352.27 L1637.49,352.06 L1638.99,351.82 L1640.5,350.92 L1642,350.8 L1643.5,350.31 L1645.01,349.84 L1646.51,349.52 L1648.02,349.51 L1649.52,349.53 L1651.02,349.46 L1652.53,348.98 L1654.03,348.49 L1655.53,348.07 L1657.04,347.86 L1658.54,347.13 L1660.05,346.57 L1661.55,345.82 L1663.05,344.88 L1664.56,344.58 L1666.06,344.3 L1667.56,344.38 L1669.07,344.08 L1670.57,343.6 L1672.08,343.56 L1673.58,343.14 L1675.08,342.61 L1676.59,342.01 L1678.09,342.09 L1679.6,341.59 L1681.1,341.18 L1682.6,340.6 L1684.11,340.74 L1685.61,340.19 L1687.11,340.54 L1688.62,339.99 L1690.12,339.46 L1691.63,339.62 L1693.13,339.02 L1694.63,338.14 L1696.14,337.54 L1697.64,336.77 L1699.14,336.56 L1700.65,336.47 L1702.15,335.91 L1703.66,335.92 L1705.16,336.12 L1706.66,335.91 L1708.17,335.26 L1709.67,335.15 L1711.17,334.44 L1712.68,333.97 L1714.18,333.1 L1715.69,332.94 L1717.19,332.76 L1718.69,332.02 L1720.2,331.49 L1721.7,331.16 L1723.2,330.91 L1724.71,331 L1726.21,330.57 L1727.72,329.58 L1729.22,329.53 L1730.72,328.76 L1732.23,328.54 L1733.73,328.34 L1735.24,327.63 L1736.74,326.93 L1738.24,326.64 L1739.75,326.57 L1741.25,326.47 L1742.75,326.01 L1744.26,325.27 L1745.76,324.77 L1747.27,325.28 L1748.77,324.9 L1750.27,324.02 L1751.78,323.51 L1753.28,323.47 L1754.78,323.15 L1756.29,322.43 L1757.79,321.8 L1759.3,321.19 L1760.8,319.83 L1762.3,318.45 L1763.81,318.15 L1765.31,317.37 L1766.81,317.59 L1768.32,316.95 L1769.82,315.73 L1771.33,315.04 L1772.83,314.32 L1774.33,314.99 L1775.84,314.25 L1777.34,313.5 L1778.84,313.48 L1780.35,312.7 L1781.85,311.97 L1783.36,310.1 L1784.86,309.28 L1786.36,308.2 L1787.87,306.91 L1789.37,305.21 L1790.88,304.57 L1792.38,303.56 L1793.88,302.34 L1795.39,301.52 L1796.89,300.72 L1798.39,299.89 L1799.9,300.17 L1801.4,299.61 L1802.91,299.64 L1804.41,299.28 L1805.91,299.43 L1807.42,298.81 L1808.92,297.22 L1810.42,296.59 L1811.93,295.45 L1813.43,294.56 L1814.94,293.48 L1816.44,293.21 L1817.94,292.11 L1819.45,291.33 L1820.95,290.57 L1822.45,289.85 L1823.96,288.33 L1825.46,288.61 L1826.97,288.56 L1828.47,287.02 L1829.97,285.3 L1831.48,284.19 L1832.98,281.98 L1834.48,282.59 L1835.99,282.03 L1837.49,281.28 L1839,280.4 L1840.5,279.2 L1840.5,391.9 L1839,392.21 L1837.49,392.64 L1835.99,392.74 L1834.48,392.4 L1832.98,392.42 L1831.48,390.84 L1829.97,390.17 L1828.47,389.85 L1826.97,390.09 L1825.46,389.6 L1823.96,388.39 L1822.45,386.97 L1820.95,386 L1819.45,386.14 L1817.94,385.52 L1816.44,384.61 L1814.94,383.22 L1813.43,383.4 L1811.93,382.74 L1810.42,382.48 L1808.92,382.65 L1807.42,382.17 L1805.91,382.56 L1804.41,381.65 L1802.91,380.91 L1801.4,381.51 L1799.9,380.1 L1798.39,379.48 L1796.89,379.46 L1795.39,379.26 L1793.88,378.7 L1792.38,378.34 L1790.88,377.71 L1789.37,376.97 L1787.87,376.86 L1786.36,376.67 L1784.86,377.3 L1783.36,376.77 L1781.85,377.4 L1780.35,377.8 L1778.84,377.67 L1777.34,378.01 L1775.84,377.37 L1774.33,376.92 L1772.83,376.84 L1771.33,376.38 L1769.82,376.35 L1768.32,376.88 L1766.81,376.13 L1765.31,375.08 L1763.81,374.9 L1762.3,374.6 L1760.8,373.95 L1759.3,373.83 L1757.79,373.4 L1756.29,372.78 L1754.78,372.23 L1753.28,372.72 L1751.78,372.65 L1750.27,372.83 L1748.77,372.81 L1747.27,373.05 L1745.76,372.79 L1744.26,372.76 L1742.75,372.95 L1741.25,373.22 L1739.75,373.02 L1738.24,373.13 L1736.74,373.17 L1735.24,373.06 L1733.73,372.83 L1732.23,372.38 L1730.72,372.13 L1729.22,371.97 L1727.72,372.15 L1726.21,372.45 L1724.71,372.72 L1723.2,372.45 L1721.7,372.83 L1720.2,372.33 L1718.69,372.23 L1717.19,372.49 L1715.69,372.58 L1714.18,372.02 L1712.68,372.07 L1711.17,371.79 L1709.67,372.24 L1708.17,372.59 L1706.66,372.63 L1705.16,373.18 L1703.66,373.05 L1702.15,373.69 L1700.65,373.61 L1699.14,373.69 L1697.64,374.03 L1696.14,374.58 L1694.63,374.47 L1693.13,374.36 L1691.63,374.64 L1690.12,374.89 L1688.62,374.69 L1687.11,375.37 L1685.61,375.28 L1684.11,375.57 L1682.6,375.97 L1681.1,375.89 L1679.6,376.36 L1678.09,376.34 L1676.59,376.19 L1675.08,376.25 L1673.58,376.18 L1672.08,376.37 L1670.57,376.08 L1669.07,375.77 L1667.56,375.95 L1666.06,376.02 L1664.56,376.17 L1663.05,375.55 L1661.55,375.36 L1660.05,375.62 L1658.54,375.73 L1657.04,376.29 L1655.53,376.26 L1654.03,376.5 L1652.53,376.81 L1651.02,376.93 L1649.52,376.8 L1648.02,376.42 L1646.51,376.43 L1645.01,376.39 L1643.5,376.52 L1642,376.45 L1640.5,376.44 L1638.99,376.73 L1637.49,376.7 L1635.99,376.81 L1634.48,377.11 L1632.98,377.1 L1631.47,377 L1629.97,377.43 L1628.47,377.23 L1626.96,376.95 L1625.46,376.91 L1623.96,377.16 L1622.45,377.26 L1620.95,377.7 L1619.44,377.62 L1617.94,377.67 L1616.44,377.83 L1614.93,377.93 L1613.43,378.17 L1611.92,378.38 L1610.42,378.55 L1608.92,378.92 L1607.41,379.15 L1605.91,379.25 L1604.41,379.32 L1602.9,379.63 L1601.4,379.7 L1599.89,380.14 L1598.39,380.07 L1596.89,380.06 L1595.38,380.51 L1593.88,380.72 L1592.38,380.92 L1590.87,381.31 L1589.37,381.72 L1587.86,381.88 L1586.36,381.94 L1584.86,382.24 L1583.35,382.32 L1581.85,382.18 L1580.35,382.62 L1578.84,382.85 L1577.34,383.06 L1575.83,382.73 L1574.33,383.24 L1572.83,383.32 L1571.32,383.65 L1569.82,383.8 L1568.32,383.77 L1566.81,384.18 L1565.31,384.25 L1563.8,384.33 L1562.3,384.5 Z" fill="#E7298A" fill-opacity="0.35" stroke="none"/>
<path d="M1562.3,370.1 L1563.8,369.44 L1565.31,369.65 L1566.81,369.23 L1568.32,368.88 L1569.82,368.57 L1571.32,368.44 L1572.83,368.04 L1574.33,368.04 L1575.83,367.57 L1577.34,367.05 L1578.84,366.59 L1580.35,366.38 L1581.85,366.04 L1583.35,365.56 L1584.86,365.14 L1586.36,364.55 L1587.86,364.35 L1589.37,363.85 L1590.87,363.64 L1592.38,363.4 L1593.88,362.9 L1595.38,362.07 L1596.89,361.64 L1598.39,361.31 L1599.89,360.97 L1601.4,360.48 L1602.9,360.51 L1604.41,360.35 L1605.91,360.13 L1607.41,359.87 L1608.92,359.7 L1610.42,359.08 L1611.92,358.9 L1613.43,358.26 L1614.93,357.78 L1616.44,357.34 L1617.94,356.85 L1619.44,356.5 L1620.95,356.14 L1622.45,355.82 L1623.96,355.31 L1625.46,355.08 L1626.96,354.51 L1628.47,354.05 L1629.97,353.57 L1631.47,352.9 L1632.98,352.85 L1634.48,352.57 L1635.99,352.27 L1637.49,352.06 L1638.99,351.82 L1640.5,350.92 L1642,350.8 L1643.5,350.31 L1645.01,349.84 L1646.51,349.52 L1648.02,349.51 L1649.52,349.53 L1651.02,349.46 L1652.53,348.98 L1654.03,348.49 L1655.53,348.07 L1657.04,347.86 L1658.54,347.13 L1660.05,346.57 L1661.55,345.82 L1663.05,344.88 L1664.56,344.58 L1666.06,344.3 L1667.56,344.38 L1669.07,344.08 L1670.57,343.6 L1672.08,343.56 L1673.58,343.14 L1675.08,342.61 L1676.59,342.01 L1678.09,342.09 L1679.6,341.59 L1681.1,341.18 L1682.6,340.6 L1684.11,340.74 L1685.61,340.19 L1687.11,340.54 L1688.62,339.99 L1690.12,339.46 L1691.63,339.62 L1693.13,339.02 L1694.63,338.14 L1696.14,337.54 L1697.64,336.77 L1699.14,336.56 L1700.65,336.47 L1702.15,335.91 L1703.66,335.92 L1705.16,336.12 L1706.66,335.91 L1708.17,335.26 L1709.67,335.15 L1711.17,334.44 L1712.68,333.97 L1714.18,333.1 L1715.69,332.94 L1717.19,332.76 L1718.69,332.02 L1720.2,331.49 L1721.7,331.16 L1723.2,330.91 L1724.71,331 L1726.21,330.57 L1727.72,329.58 L1729.22,329.53 L1730.72,328.76 L1732.23,328.54 L1733.73,328.34 L1735.24,327.63 L1736.74,326.93 L1738.24,326.64 L1739.75,326.57 L1741.25,326.47 L1742.75,326.01 L1744.26,325.27 L1745.76,324.77 L1747.27,325.28 L1748.77,324.9 L1750.27,324.02 L1751.78,323.51 L1753.28,323.47 L1754.78,323.15 L1756.29,322.43 L1757.79,321.8 L1759.3,321.19 L1760.8,319.83 L1762.3,318.45 L1763.81,318.15 L1765.31,317.37 L1766.81,317.59 L1768.32,316.95 L1769.82,315.73 L1771.33,315.04 L1772.83,314.32 L1774.33,314.99 L1775.84,314.25 L1777.34,313.5 L1778.84,313.48 L1780.35,312.7 L1781.85,311.97 L1783.36,310.1 L1784.86,309.28 L1786.36,308.2 L1787.87,306.91 L1789.37,305.21 L1790.88,304.57 L1792.38,303.56 L1793.88,302.34 L1795.39,301.52 L1796.89,300.72 L1798.39,299.89 L1799.9,300.17 L1801.4,299.61 L1802.91,299.64 L1804.41,299.28 L1805.91,299.43 L1807.42,298.81 L1808.92,297.22 L1810.42,296.59 L1811.93,295.45 L1813.43,294.56 L1814.94,293.48 L1816.44,293.21 L1817.94,292.11 L1819.45,291.33 L1820.95,290.57 L1822.45,289.85 L1823.96,288.33 L1825.46,288.61 L1826.97,288.56 L1828.47,287.02 L1829.97,285.3 L1831.48,284.19 L1832.98,281.98 L1834.48,282.59 L1835.99,282.03 L1837.49,281.28 L1839,280.4 L1840.5,279.2" fill="none" stroke="#fff" stroke-width="3.2" stroke-linejoin="round"/>
<path d="M1562.3,384.5 L1563.8,384.33 L1565.31,384.25 L1566.81,384.18 L1568.32,383.77 L1569.82,383.8 L1571.32,383.65 L1572.83,383.32 L1574.33,383.24 L1575.83,382.73 L1577.34,383.06 L1578.84,382.85 L1580.35,382.62 L1581.85,382.18 L1583.35,382.32 L1584.86,382.24 L1586.36,381.94 L1587.86,381.88 L1589.37,381.72 L1590.87,381.31 L1592.38,380.92 L1593.88,380.72 L1595.38,380.51 L1596.89,380.06 L1598.39,380.07 L1599.89,380.14 L1601.4,379.7 L1602.9,379.63 L1604.41,379.32 L1605.91,379.25 L1607.41,379.15 L1608.92,378.92 L1610.42,378.55 L1611.92,378.38 L1613.43,378.17 L1614.93,377.93 L1616.44,377.83 L1617.94,377.67 L1619.44,377.62 L1620.95,377.7 L1622.45,377.26 L1623.96,377.16 L1625.46,376.91 L1626.96,376.95 L1628.47,377.23 L1629.97,377.43 L1631.47,377 L1632.98,377.1 L1634.48,377.11 L1635.99,376.81 L1637.49,376.7 L1638.99,376.73 L1640.5,376.44 L1642,376.45 L1643.5,376.52 L1645.01,376.39 L1646.51,376.43 L1648.02,376.42 L1649.52,376.8 L1651.02,376.93 L1652.53,376.81 L1654.03,376.5 L1655.53,376.26 L1657.04,376.29 L1658.54,375.73 L1660.05,375.62 L1661.55,375.36 L1663.05,375.55 L1664.56,376.17 L1666.06,376.02 L1667.56,375.95 L1669.07,375.77 L1670.57,376.08 L1672.08,376.37 L1673.58,376.18 L1675.08,376.25 L1676.59,376.19 L1678.09,376.34 L1679.6,376.36 L1681.1,375.89 L1682.6,375.97 L1684.11,375.57 L1685.61,375.28 L1687.11,375.37 L1688.62,374.69 L1690.12,374.89 L1691.63,374.64 L1693.13,374.36 L1694.63,374.47 L1696.14,374.58 L1697.64,374.03 L1699.14,373.69 L1700.65,373.61 L1702.15,373.69 L1703.66,373.05 L1705.16,373.18 L1706.66,372.63 L1708.17,372.59 L1709.67,372.24 L1711.17,371.79 L1712.68,372.07 L1714.18,372.02 L1715.69,372.58 L1717.19,372.49 L1718.69,372.23 L1720.2,372.33 L1721.7,372.83 L1723.2,372.45 L1724.71,372.72 L1726.21,372.45 L1727.72,372.15 L1729.22,371.97 L1730.72,372.13 L1732.23,372.38 L1733.73,372.83 L1735.24,373.06 L1736.74,373.17 L1738.24,373.13 L1739.75,373.02 L1741.25,373.22 L1742.75,372.95 L1744.26,372.76 L1745.76,372.79 L1747.27,373.05 L1748.77,372.81 L1750.27,372.83 L1751.78,372.65 L1753.28,372.72 L1754.78,372.23 L1756.29,372.78 L1757.79,373.4 L1759.3,373.83 L1760.8,373.95 L1762.3,374.6 L1763.81,374.9 L1765.31,375.08 L1766.81,376.13 L1768.32,376.88 L1769.82,376.35 L1771.33,376.38 L1772.83,376.84 L1774.33,376.92 L1775.84,377.37 L1777.34,378.01 L1778.84,377.67 L1780.35,377.8 L1781.85,377.4 L1783.36,376.77 L1784.86,377.3 L1786.36,376.67 L1787.87,376.86 L1789.37,376.97 L1790.88,377.71 L1792.38,378.34 L1793.88,378.7 L1795.39,379.26 L1796.89,379.46 L1798.39,379.48 L1799.9,380.1 L1801.4,381.51 L1802.91,380.91 L1804.41,381.65 L1805.91,382.56 L1807.42,382.17 L1808.92,382.65 L1810.42,382.48 L1811.93,382.74 L1813.43,383.4 L1814.94,383.22 L1816.44,384.61 L1817.94,385.52 L1819.45,386.14 L1820.95,386 L1822.45,386.97 L1823.96,388.39 L1825.46,389.6 L1826.97,390.09 L1828.47,389.85 L1829.97,390.17 L1831.48,390.84 L1832.98,392.42 L1834.48,392.4 L1835.99,392.74 L1837.49,392.64 L1839,392.21 L1840.5,391.9" fill="none" stroke="#fff" stroke-width="3.2" stroke-linejoin="round"/>
<circle cx="1587.94" cy="367.04" r="9.6" fill="#E7298A" fill-opacity="0.5" stroke="#E7298A" stroke-opacity="0.25" stroke-width="1.2"/>
<circle cx="1610.49" cy="360.89" r="9.6" fill="#E7298A" fill-opacity="0.5" stroke="#E7298A" stroke-opacity="0.25" stroke-width="1.2"/>
<circle cx="1628.93" cy="368.07" r="9.6" fill="#E7298A" fill-opacity="0.5" stroke="#E7298A" stroke-opacity="0.25" stroke-width="1.2"/>
<circle cx="1641.23" cy="368.07" r="9.6" fill="#E7298A" fill-opacity="0.5" stroke="#E7298A" stroke-opacity="0.25" stroke-width="1.2"/>
<circle cx="1656.6" cy="351.67" r="9.6" fill="#E7298A" fill-opacity="0.5" stroke="#E7298A" stroke-opacity="0.25" stroke-width="1.2"/>
<circle cx="1665.83" cy="367.04" r="9.6" fill="#E7298A" fill-opacity="0.5" stroke="#E7298A" stroke-opacity="0.25" stroke-width="1.2"/>
<circle cx="1676.08" cy="355.77" r="9.6" fill="#E7298A" fill-opacity="0.5" stroke="#E7298A" stroke-opacity="0.25" stroke-width="1.2"/>
<circle cx="1671.98" cy="366.02" r="9.6" fill="#E7298A" fill-opacity="0.5" stroke="#E7298A" stroke-opacity="0.25" stroke-width="1.2"/>
<circle cx="1696.57" cy="347.57" r="9.6" fill="#E7298A" fill-opacity="0.5" stroke="#E7298A" stroke-opacity="0.25" stroke-width="1.2"/>
<circle cx="1696.57" cy="366.02" r="9.6" fill="#E7298A" fill-opacity="0.5" stroke="#E7298A" stroke-opacity="0.25" stroke-width="1.2"/>
<circle cx="1704.77" cy="355.77" r="9.6" fill="#E7298A" fill-opacity="0.5" stroke="#E7298A" stroke-opacity="0.25" stroke-width="1.2"/>
<circle cx="1717.07" cy="349.62" r="9.6" fill="#E7298A" fill-opacity="0.5" stroke="#E7298A" stroke-opacity="0.25" stroke-width="1.2"/>
<circle cx="1715.02" cy="363.97" r="9.6" fill="#E7298A" fill-opacity="0.5" stroke="#E7298A" stroke-opacity="0.25" stroke-width="1.2"/>
<circle cx="1731.41" cy="341.42" r="9.6" fill="#E7298A" fill-opacity="0.5" stroke="#E7298A" stroke-opacity="0.25" stroke-width="1.2"/>
<circle cx="1739.61" cy="351.67" r="9.6" fill="#E7298A" fill-opacity="0.5" stroke="#E7298A" stroke-opacity="0.25" stroke-width="1.2"/>
<circle cx="1743.71" cy="361.92" r="9.6" fill="#E7298A" fill-opacity="0.5" stroke="#E7298A" stroke-opacity="0.25" stroke-width="1.2"/>
<circle cx="1745.76" cy="333.22" r="9.6" fill="#E7298A" fill-opacity="0.5" stroke="#E7298A" stroke-opacity="0.25" stroke-width="1.2"/>
<circle cx="1749.86" cy="345.52" r="9.6" fill="#E7298A" fill-opacity="0.5" stroke="#E7298A" stroke-opacity="0.25" stroke-width="1.2"/>
<circle cx="1762.16" cy="329.12" r="9.6" fill="#E7298A" fill-opacity="0.5" stroke="#E7298A" stroke-opacity="0.25" stroke-width="1.2"/>
<circle cx="1772.41" cy="325.03" r="9.6" fill="#E7298A" fill-opacity="0.5" stroke="#E7298A" stroke-opacity="0.25" stroke-width="1.2"/>
<circle cx="1776.51" cy="347.57" r="9.6" fill="#E7298A" fill-opacity="0.5" stroke="#E7298A" stroke-opacity="0.25" stroke-width="1.2"/>
<circle cx="1784.7" cy="349.62" r="9.6" fill="#E7298A" fill-opacity="0.5" stroke="#E7298A" stroke-opacity="0.25" stroke-width="1.2"/>
<circle cx="1790.85" cy="325.03" r="9.6" fill="#E7298A" fill-opacity="0.5" stroke="#E7298A" stroke-opacity="0.25" stroke-width="1.2"/>
<circle cx="1809.3" cy="325.03" r="9.6" fill="#E7298A" fill-opacity="0.5" stroke="#E7298A" stroke-opacity="0.25" stroke-width="1.2"/>
<circle cx="1815.45" cy="339.37" r="9.6" fill="#E7298A" fill-opacity="0.5" stroke="#E7298A" stroke-opacity="0.25" stroke-width="1.2"/>
<circle cx="1817.5" cy="331.17" r="9.6" fill="#E7298A" fill-opacity="0.5" stroke="#E7298A" stroke-opacity="0.25" stroke-width="1.2"/>
<circle cx="1840.04" cy="325.44" r="9.6" fill="#E7298A" fill-opacity="0.5" stroke="#E7298A" stroke-opacity="0.25" stroke-width="1.2"/>
<circle cx="1768.31" cy="341.42" r="9.6" fill="#E7298A" fill-opacity="0.5" stroke="#E7298A" stroke-opacity="0.25" stroke-width="1.2"/>
<circle cx="1688.37" cy="359.87" r="9.6" fill="#E7298A" fill-opacity="0.5" stroke="#E7298A" stroke-opacity="0.25" stroke-width="1.2"/>
<circle cx="1723.22" cy="355.77" r="9.6" fill="#E7298A" fill-opacity="0.5" stroke="#E7298A" stroke-opacity="0.25" stroke-width="1.2"/>
<circle cx="1688.37" cy="347.57" r="9.6" fill="#E7298A" fill-opacity="0.5" stroke="#E7298A" stroke-opacity="0.25" stroke-width="1.2"/>
<circle cx="1692.47" cy="355.77" r="9.6" fill="#E7298A" fill-opacity="0.5" stroke="#E7298A" stroke-opacity="0.25" stroke-width="1.2"/>
<circle cx="1700.67" cy="363.97" r="9.6" fill="#E7298A" fill-opacity="0.5" stroke="#E7298A" stroke-opacity="0.25" stroke-width="1.2"/>
<circle cx="1708.87" cy="351.67" r="9.6" fill="#E7298A" fill-opacity="0.5" stroke="#E7298A" stroke-opacity="0.25" stroke-width="1.2"/>
<circle cx="1719.12" cy="343.47" r="9.6" fill="#E7298A" fill-opacity="0.5" stroke="#E7298A" stroke-opacity="0.25" stroke-width="1.2"/>
<circle cx="1727.32" cy="347.57" r="9.6" fill="#E7298A" fill-opacity="0.5" stroke="#E7298A" stroke-opacity="0.25" stroke-width="1.2"/>
<circle cx="1733.46" cy="355.77" r="9.6" fill="#E7298A" fill-opacity="0.5" stroke="#E7298A" stroke-opacity="0.25" stroke-width="1.2"/>
<circle cx="1741.66" cy="343.47" r="9.6" fill="#E7298A" fill-opacity="0.5" stroke="#E7298A" stroke-opacity="0.25" stroke-width="1.2"/>
<circle cx="1753.96" cy="339.37" r="9.6" fill="#E7298A" fill-opacity="0.5" stroke="#E7298A" stroke-opacity="0.25" stroke-width="1.2"/>
<circle cx="1766.26" cy="322.98" r="9.6" fill="#E7298A" fill-opacity="0.5" stroke="#E7298A" stroke-opacity="0.25" stroke-width="1.2"/>
<circle cx="1778.56" cy="327.08" r="9.6" fill="#E7298A" fill-opacity="0.5" stroke="#E7298A" stroke-opacity="0.25" stroke-width="1.2"/>
<circle cx="1794.95" cy="327.08" r="9.6" fill="#E7298A" fill-opacity="0.5" stroke="#E7298A" stroke-opacity="0.25" stroke-width="1.2"/>
<circle cx="1803.15" cy="331.17" r="9.6" fill="#E7298A" fill-opacity="0.5" stroke="#E7298A" stroke-opacity="0.25" stroke-width="1.2"/>
<circle cx="1770.36" cy="351.67" r="9.6" fill="#E7298A" fill-opacity="0.5" stroke="#E7298A" stroke-opacity="0.25" stroke-width="1.2"/>
<circle cx="1780.6" cy="343.47" r="9.6" fill="#E7298A" fill-opacity="0.5" stroke="#E7298A" stroke-opacity="0.25" stroke-width="1.2"/>
<circle cx="1813.4" cy="341.42" r="9.6" fill="#E7298A" fill-opacity="0.5" stroke="#E7298A" stroke-opacity="0.25" stroke-width="1.2"/>
<circle cx="1663.78" cy="361.92" r="9.6" fill="#E7298A" fill-opacity="0.5" stroke="#E7298A" stroke-opacity="0.25" stroke-width="1.2"/>
<circle cx="1655.58" cy="363.97" r="9.6" fill="#E7298A" fill-opacity="0.5" stroke="#E7298A" stroke-opacity="0.25" stroke-width="1.2"/>
<circle cx="1680.17" cy="363.97" r="9.6" fill="#E7298A" fill-opacity="0.5" stroke="#E7298A" stroke-opacity="0.25" stroke-width="1.2"/>
<line x1="1562.3" y1="376.3" x2="1840.5" y2="333.2" stroke="#E7298A" stroke-width="5"/>
</g>
<rect x="1549.55" y="202.05" width="304" height="242.4" fill="none" stroke="#333333" stroke-width="2.9"/>
<line x1="1557.1" y1="445.9" x2="1557.1" y2="456.9" stroke="#333333" stroke-width="4.4"/>
<text x="1557.1" y="493.5" font-family="'Liberation Sans', Arial, sans-serif" font-size="38.3" fill="#4D4D4D" text-anchor="middle">−2</text>
<line x1="1657.1" y1="445.9" x2="1657.1" y2="456.9" stroke="#333333" stroke-width="4.4"/>
<text x="1657.1" y="493.5" font-family="'Liberation Sans', Arial, sans-serif" font-size="38.3" fill="#4D4D4D" text-anchor="middle">0</text>
<line x1="1757.1" y1="445.9" x2="1757.1" y2="456.9" stroke="#333333" stroke-width="4.4"/>
<text x="1757.1" y="493.5" font-family="'Liberation Sans', Arial, sans-serif" font-size="38.3" fill="#4D4D4D" text-anchor="middle">2</text>
<line x1="1625.3" y1="115.6" x2="1625.3" y2="127.1" stroke="#333333" stroke-width="4.4"/>
<text x="1625.3" y="105.6" font-family="'Liberation Sans', Arial, sans-serif" font-size="38.3" fill="#4D4D4D" text-anchor="middle">1</text>
<line x1="1717" y1="115.6" x2="1717" y2="127.1" stroke="#333333" stroke-width="4.4"/>
<text x="1717" y="105.6" font-family="'Liberation Sans', Arial, sans-serif" font-size="38.3" fill="#4D4D4D" text-anchor="middle">2</text>
<line x1="1809.1" y1="115.6" x2="1809.1" y2="127.1" stroke="#333333" stroke-width="4.4"/>
<text x="1809.1" y="105.6" font-family="'Liberation Sans', Arial, sans-serif" font-size="38.3" fill="#4D4D4D" text-anchor="middle">3</text>
<line x1="221" y1="238.2" x2="232.1" y2="238.2" stroke="#333333" stroke-width="4.4"/>
<text x="211" y="251.8" font-family="'Liberation Sans', Arial, sans-serif" font-size="38.3" fill="#4D4D4D" text-anchor="end">10</text>
<line x1="221" y1="296.1" x2="232.1" y2="296.1" stroke="#333333" stroke-width="4.4"/>
<text x="211" y="309.7" font-family="'Liberation Sans', Arial, sans-serif" font-size="38.3" fill="#4D4D4D" text-anchor="end">5</text>
<line x1="221" y1="354" x2="232.1" y2="354" stroke="#333333" stroke-width="4.4"/>
<text x="211" y="367.6" font-family="'Liberation Sans', Arial, sans-serif" font-size="38.3" fill="#4D4D4D" text-anchor="end">0</text>
<line x1="221" y1="411.9" x2="232.1" y2="411.9" stroke="#333333" stroke-width="4.4"/>
<text x="211" y="425.5" font-family="'Liberation Sans', Arial, sans-serif" font-size="38.3" fill="#4D4D4D" text-anchor="end">−5</text>
<line x1="1855" y1="201.98" x2="1866.5" y2="201.98" stroke="#333333" stroke-width="4.4"/>
<text x="1876" y="215.58" font-family="'Liberation Sans', Arial, sans-serif" font-size="38.3" fill="#4D4D4D">6</text>
<line x1="1855" y1="256.12" x2="1866.5" y2="256.12" stroke="#333333" stroke-width="4.4"/>
<text x="1876" y="269.72" font-family="'Liberation Sans', Arial, sans-serif" font-size="38.3" fill="#4D4D4D">4</text>
<line x1="1855" y1="310.26" x2="1866.5" y2="310.26" stroke="#333333" stroke-width="4.4"/>
<text x="1876" y="323.86" font-family="'Liberation Sans', Arial, sans-serif" font-size="38.3" fill="#4D4D4D">2</text>
<line x1="1855" y1="364.4" x2="1866.5" y2="364.4" stroke="#333333" stroke-width="4.4"/>
<text x="1876" y="378" font-family="'Liberation Sans', Arial, sans-serif" font-size="38.3" fill="#4D4D4D">0</text>
<line x1="1855" y1="418.54" x2="1866.5" y2="418.54" stroke="#333333" stroke-width="4.4"/>
<text x="1876" y="432.14" font-family="'Liberation Sans', Arial, sans-serif" font-size="38.3" fill="#4D4D4D">−2</text>
<text x="881.5" y="48" font-family="'Liberation Sans', Arial, sans-serif" font-size="46.8" fill="#000">log<tspan font-size="34.5" dy="8.9">10</tspan><tspan dy="-8.9">Area (km</tspan><tspan font-size="34.5" dy="-23.1">2</tspan><tspan dy="23.1" dx="0.5">)</tspan></text>
<text x="1042.5" y="546.9" font-family="'Liberation Sans', Arial, sans-serif" font-size="46.8" fill="#000" text-anchor="middle">Area*</text>
<text transform="translate(147,323.5) rotate(-90)" font-family="'Liberation Sans', Arial, sans-serif" font-size="46.8" fill="#000" text-anchor="middle">Volume*</text>
<text transform="translate(1977.3,513.5) rotate(-90)" font-family="'Liberation Sans', Arial, sans-serif" font-size="46.8" fill="#000">log<tspan font-size="34.5" dy="8.9">10</tspan><tspan dy="-8.9">Volume (km</tspan><tspan font-size="34.5" dy="-23.1">3</tspan><tspan dy="23.1" dx="0.5">)</tspan></text>
<text x="-1" y="31.8" font-family="'Liberation Sans', Arial, sans-serif" font-size="58.5" font-weight="bold" fill="#000">a</text>
<text x="1" y="645" font-family="'Liberation Sans', Arial, sans-serif" font-size="58.5" font-weight="bold" fill="#000">b</text>
<text x="1072.2" y="645" font-family="'Liberation Sans', Arial, sans-serif" font-size="58.5" font-weight="bold" fill="#000">c</text>
<line x1="675.53" y1="604.1" x2="675.53" y2="1050" stroke="#BEBEBE" stroke-width="4.5"/>
<line x1="689.7" y1="604.1" x2="689.7" y2="1050" stroke="#FF0000" stroke-width="4.5"/>
<path d="M716.3,683.8 C719.62,683.57 731.07,683.08 736.2,682.4 C741.33,681.72 743.77,680.9 747.1,679.7 C750.43,678.5 753.18,677.02 756.2,675.2 C759.22,673.38 762.18,671.52 765.2,668.8 C768.22,666.08 771.88,662.07 774.3,658.9 C776.72,655.73 777.9,653.28 779.7,649.8 C781.5,646.32 783.28,641.92 785.1,638 C786.92,634.08 788.93,629.98 790.6,626.3 C792.27,622.62 793.75,618.25 795.1,615.9 C796.45,613.55 797.48,612.43 798.7,612.2 C799.92,611.97 801.03,612.77 802.4,614.5 C803.77,616.23 805.55,619.58 806.9,622.6 C808.25,625.62 809.3,629.12 810.5,632.6 C811.7,636.08 812.73,639.57 814.1,643.5 C815.47,647.43 817.18,652.28 818.7,656.2 C820.22,660.12 821.85,664.13 823.2,667 C824.55,669.87 825.45,671.58 826.8,673.4 C828.15,675.22 829.48,676.55 831.3,677.9 C833.12,679.25 835.43,680.62 837.7,681.5 C839.97,682.38 841.28,682.82 844.9,683.2 C848.52,683.58 856.98,683.7 859.4,683.8 L859.4,684.5 L716.3,684.5 Z" fill="#66A61E" fill-opacity="0.75"/>
<line x1="754.8" y1="683.9" x2="828" y2="683.9" stroke="#000" stroke-width="5.8"/>
<circle cx="796.5" cy="683.9" r="9.05" fill="#fff" stroke="#FF0000" stroke-width="4.5"/>
<path d="M661.8,763.4 C664.37,763.1 672.83,762.5 677.2,761.6 C681.57,760.7 684.68,759.82 688,758 C691.32,756.18 694.07,753.27 697.1,750.7 C700.13,748.13 703.33,745.77 706.2,742.6 C709.07,739.43 711.58,734.57 714.3,731.7 C717.02,728.83 719.63,727.67 722.5,725.4 C725.37,723.13 728.78,719.85 731.5,718.1 C734.22,716.35 736.38,715.2 738.8,714.9 C741.22,714.6 743.73,715.32 746,716.3 C748.27,717.28 750.28,718.68 752.4,720.8 C754.52,722.92 756.45,725.98 758.7,729 C760.95,732.02 763.48,735.43 765.9,738.9 C768.32,742.37 771.08,746.92 773.2,749.8 C775.32,752.68 776.48,754.47 778.6,756.2 C780.72,757.93 783.18,759.07 785.9,760.2 C788.62,761.33 789.4,762.47 794.9,763 C800.4,763.53 814.9,763.33 818.9,763.4 L818.9,764.2 L661.8,764.2 Z" fill="#D95F02" fill-opacity="0.75"/>
<line x1="691.8" y1="763.6" x2="778.6" y2="763.6" stroke="#000" stroke-width="5.8"/>
<circle cx="736.8" cy="763.6" r="9.05" fill="#fff" stroke="#FF0000" stroke-width="4.5"/>
<path d="M627.2,843.2 C630.02,842.93 639.27,842.53 644.1,841.6 C648.93,840.67 652.83,839.33 656.2,837.6 C659.57,835.87 661.62,834.42 664.3,831.2 C666.98,827.98 670.03,822.73 672.3,818.3 C674.57,813.87 676.15,808.77 677.9,804.6 C679.65,800.43 681.18,796.65 682.8,793.3 C684.42,789.95 685.45,786.83 687.6,784.5 C689.75,782.17 693.42,779.7 695.7,779.3 C697.98,778.9 699.43,780.3 701.3,782.1 C703.17,783.9 705.02,787.02 706.9,790.1 C708.78,793.18 710.72,797.52 712.6,800.6 C714.48,803.68 716.47,805.38 718.2,808.6 C719.93,811.82 721.4,816.4 723,819.9 C724.6,823.4 725.92,826.78 727.8,829.6 C729.68,832.42 731.75,834.87 734.3,836.8 C736.85,838.73 740.02,840.2 743.1,841.2 C746.18,842.2 749.17,842.47 752.8,842.8 C756.43,843.13 762.88,843.13 764.9,843.2 L764.9,843.8 L627.2,843.8 Z" fill="#7570B3" fill-opacity="0.75"/>
<line x1="661.4" y1="843.2" x2="731.9" y2="843.2" stroke="#000" stroke-width="5.8"/>
<circle cx="696.1" cy="843.2" r="9.05" fill="#fff" stroke="#FF0000" stroke-width="4.5"/>
<path d="M478.5,922.2 C485.77,921.78 511.42,921.03 522.1,919.7 C532.78,918.37 535.77,915.92 542.6,914.2 C549.43,912.48 556.53,910.68 563.1,909.4 C569.67,908.12 575.72,907.98 582,906.5 C588.28,905.02 594.82,901.83 600.8,900.5 C606.78,899.17 612.2,899.27 617.9,898.5 C623.6,897.73 630.73,896.13 635,895.9 C639.27,895.67 639.52,895.47 643.5,897.1 C647.48,898.73 653.48,903.13 658.9,905.7 C664.32,908.27 670.3,910.57 676,912.5 C681.7,914.43 686.83,915.97 693.1,917.3 C699.37,918.63 702.77,919.68 713.6,920.5 C724.43,921.32 750.68,921.92 758.1,922.2 L758.1,923.4 L478.5,923.4 Z" fill="#1B9E77" fill-opacity="0.75"/>
<line x1="523.8" y1="922.8" x2="700" y2="922.8" stroke="#000" stroke-width="5.8"/>
<circle cx="619.2" cy="922.8" r="9.05" fill="#fff" stroke="#FF0000" stroke-width="4.5"/>
<path d="M453.7,1002.3 C458.47,1002.12 474.9,1001.9 482.3,1001.2 C489.7,1000.5 493.7,999.42 498.1,998.1 C502.5,996.78 505.18,995.5 508.7,993.3 C512.22,991.1 515.68,988.07 519.2,984.9 C522.72,981.73 526.45,977.65 529.8,974.3 C533.15,970.95 536.67,966.95 539.3,964.8 C541.93,962.65 543.67,961.97 545.6,961.4 C547.53,960.83 549.13,961.02 550.9,961.4 C552.67,961.78 553.55,962.43 556.2,963.7 C558.85,964.97 563.28,967.32 566.8,969 C570.32,970.68 573.78,971.87 577.3,973.8 C580.82,975.73 584.73,978.23 587.9,980.6 C591.07,982.97 593.48,985.7 596.3,988 C599.12,990.3 601.98,992.63 604.8,994.4 C607.62,996.17 609.85,997.47 613.2,998.6 C616.55,999.73 620.93,1000.58 624.9,1001.2 C628.87,1001.82 634.98,1002.12 637,1002.3 L637,1003.1 L453.7,1003.1 Z" fill="#E7298A" fill-opacity="0.75"/>
<line x1="504.6" y1="1002.5" x2="606.7" y2="1002.5" stroke="#000" stroke-width="5.8"/>
<circle cx="554.4" cy="1002.5" r="9.05" fill="#fff" stroke="#FF0000" stroke-width="4.5"/>
<line x1="552.88" y1="1050" x2="552.88" y2="604.1" stroke="#BEBEBE" stroke-width="4.5" stroke-dasharray="18.2 18.2"/>
<line x1="788.12" y1="1050" x2="788.12" y2="604.1" stroke="#BEBEBE" stroke-width="4.5" stroke-dasharray="18.2 18.2"/>
<line x1="433.6" y1="604.1" x2="433.6" y2="1051.25" stroke="#B3B3B3" stroke-width="2.5"/>
<line x1="432.35" y1="1050" x2="879.9" y2="1050" stroke="#B3B3B3" stroke-width="2.5"/>
<line x1="503.3" y1="1050" x2="503.3" y2="1061.5" stroke="#B3B3B3" stroke-width="2.4"/>
<text x="503.3" y="1098.6" font-family="'Liberation Sans', Arial, sans-serif" font-size="38.3" fill="#4D4D4D" text-anchor="middle">−1.0</text>
<line x1="596.5" y1="1050" x2="596.5" y2="1061.5" stroke="#B3B3B3" stroke-width="2.4"/>
<text x="596.5" y="1098.6" font-family="'Liberation Sans', Arial, sans-serif" font-size="38.3" fill="#4D4D4D" text-anchor="middle">−0.5</text>
<line x1="689.7" y1="1050" x2="689.7" y2="1061.5" stroke="#B3B3B3" stroke-width="2.4"/>
<text x="689.7" y="1098.6" font-family="'Liberation Sans', Arial, sans-serif" font-size="38.3" fill="#4D4D4D" text-anchor="middle">0.0</text>
<line x1="782.9" y1="1050" x2="782.9" y2="1061.5" stroke="#B3B3B3" stroke-width="2.4"/>
<text x="782.9" y="1098.6" font-family="'Liberation Sans', Arial, sans-serif" font-size="38.3" fill="#4D4D4D" text-anchor="middle">0.5</text>
<line x1="876.1" y1="1050" x2="876.1" y2="1061.5" stroke="#B3B3B3" stroke-width="2.4"/>
<text x="876.1" y="1098.6" font-family="'Liberation Sans', Arial, sans-serif" font-size="38.3" fill="#4D4D4D" text-anchor="middle">1.0</text>
<line x1="422.1" y1="683.9" x2="433.6" y2="683.9" stroke="#B3B3B3" stroke-width="2.4"/>
<text x="412.5" y="697.6" font-family="'Liberation Sans', Arial, sans-serif" font-size="38.3" fill="#4D4D4D" text-anchor="end">River valley</text>
<line x1="422.1" y1="763.6" x2="433.6" y2="763.6" stroke="#B3B3B3" stroke-width="2.4"/>
<text x="412.5" y="777.3" font-family="'Liberation Sans', Arial, sans-serif" font-size="38.3" fill="#4D4D4D" text-anchor="end">Fault−bounded</text>
<line x1="422.1" y1="843.2" x2="433.6" y2="843.2" stroke="#B3B3B3" stroke-width="2.4"/>
<text x="412.5" y="856.9" font-family="'Liberation Sans', Arial, sans-serif" font-size="38.3" fill="#4D4D4D" text-anchor="end">Glacial valley</text>
<line x1="422.1" y1="922.8" x2="433.6" y2="922.8" stroke="#B3B3B3" stroke-width="2.4"/>
<text x="412.5" y="936.5" font-family="'Liberation Sans', Arial, sans-serif" font-size="38.3" fill="#4D4D4D" text-anchor="end">Escarpment</text>
<line x1="422.1" y1="1002.5" x2="433.6" y2="1002.5" stroke="#B3B3B3" stroke-width="2.4"/>
<text x="412.5" y="1016.2" font-family="'Liberation Sans', Arial, sans-serif" font-size="38.3" fill="#4D4D4D" text-anchor="end">Volcano</text>
<text x="657" y="1159.8" font-family="'DejaVu Serif', serif" font-size="42" fill="#000" text-anchor="middle">α</text>
<line x1="1774.36" y1="604.3" x2="1774.36" y2="1029.2" stroke="#BEBEBE" stroke-width="4.5"/>
<line x1="1611.1" y1="604.3" x2="1611.1" y2="1029.2" stroke="#FF0000" stroke-width="4.5"/>
<path d="M1759.1,680.3 C1762.37,680.13 1772.25,680.42 1778.7,679.3 C1785.15,678.18 1793.03,675.5 1797.8,673.6 C1802.57,671.7 1804.12,670.28 1807.3,667.9 C1810.48,665.52 1813.7,663.28 1816.9,659.3 C1820.1,655.32 1823.32,648.95 1826.5,644 C1829.68,639.05 1833.3,633.75 1836,629.6 C1838.7,625.45 1840.3,621.72 1842.7,619.1 C1845.1,616.48 1847.85,614.3 1850.4,613.9 C1852.95,613.5 1855.62,615.03 1858,616.7 C1860.38,618.37 1862.63,620.95 1864.7,623.9 C1866.77,626.85 1868.48,630.1 1870.4,634.4 C1872.32,638.7 1874.28,645.23 1876.2,649.7 C1878.12,654.17 1879.83,658.17 1881.9,661.2 C1883.97,664.23 1886.2,665.52 1888.6,667.9 C1891,670.28 1893.58,673.6 1896.3,675.5 C1899.02,677.4 1900.28,678.5 1904.9,679.3 C1909.52,680.1 1920.82,680.13 1924,680.3 L1924,680.9 L1759.1,680.9 Z" fill="#66A61E" fill-opacity="0.75"/>
<line x1="1800.7" y1="680.3" x2="1887.9" y2="680.3" stroke="#000" stroke-width="5.8"/>
<circle cx="1848.4" cy="680.3" r="9.05" fill="#fff" stroke="#FF0000" stroke-width="4.5"/>
<path d="M1744,756.1 C1746.2,755.8 1753.5,755.2 1757.2,754.3 C1760.9,753.4 1763.48,752.52 1766.2,750.7 C1768.92,748.88 1771.08,746.12 1773.5,743.4 C1775.92,740.68 1778.43,737.72 1780.7,734.4 C1782.97,731.08 1784.98,727.43 1787.1,723.5 C1789.22,719.57 1791.45,715.02 1793.4,710.8 C1795.35,706.58 1797.13,700.98 1798.8,698.2 C1800.47,695.42 1801.73,694.42 1803.4,694.1 C1805.07,693.78 1806.85,695.25 1808.8,696.3 C1810.75,697.35 1812.98,699.87 1815.1,700.4 C1817.22,700.93 1819.68,698.97 1821.5,699.5 C1823.32,700.03 1824.35,701.72 1826,703.6 C1827.65,705.48 1829.28,708.23 1831.4,710.8 C1833.52,713.37 1836.58,715.67 1838.7,719 C1840.82,722.33 1842.13,727.18 1844.1,730.8 C1846.07,734.42 1848.08,737.68 1850.5,740.7 C1852.92,743.72 1855.73,746.63 1858.6,748.9 C1861.47,751.17 1864.68,753.17 1867.7,754.3 C1870.72,755.43 1872.02,755.35 1876.7,755.7 C1881.38,756.05 1892.62,756.28 1895.8,756.4 L1895.8,756.7 L1744,756.7 Z" fill="#D95F02" fill-opacity="0.75"/>
<line x1="1773" y1="756.1" x2="1855.5" y2="756.1" stroke="#000" stroke-width="5.8"/>
<circle cx="1812" cy="756.1" r="9.05" fill="#fff" stroke="#FF0000" stroke-width="4.5"/>
<path d="M1696.4,831.9 C1698.68,831.72 1705.53,831.65 1710.1,830.8 C1714.67,829.95 1719.77,828.67 1723.8,826.8 C1727.83,824.93 1731.22,822.28 1734.3,819.6 C1737.38,816.92 1740.03,813.93 1742.3,810.7 C1744.57,807.47 1746.15,803.82 1747.9,800.2 C1749.65,796.58 1751.05,792.48 1752.8,789 C1754.55,785.52 1756.53,782.25 1758.4,779.3 C1760.27,776.35 1761.98,773.58 1764,771.3 C1766.02,769.02 1768.82,766.82 1770.5,765.6 C1772.18,764.38 1772.77,763.73 1774.1,764 C1775.43,764.27 1776.68,765.18 1778.5,767.2 C1780.32,769.22 1782.85,773 1785,776.1 C1787.15,779.2 1789.27,782.45 1791.4,785.8 C1793.53,789.15 1795.65,792.72 1797.8,796.2 C1799.95,799.68 1802.15,803.48 1804.3,806.7 C1806.45,809.92 1808.28,812.55 1810.7,815.5 C1813.12,818.45 1816.12,822.12 1818.8,824.4 C1821.48,826.68 1824.12,828.07 1826.8,829.2 C1829.48,830.33 1831.82,830.75 1834.9,831.2 C1837.98,831.65 1843.57,831.78 1845.3,831.9 L1845.3,832.5 L1696.4,832.5 Z" fill="#7570B3" fill-opacity="0.75"/>
<line x1="1732.3" y1="831.9" x2="1814.7" y2="831.9" stroke="#000" stroke-width="5.8"/>
<circle cx="1773.7" cy="831.9" r="9.05" fill="#fff" stroke="#FF0000" stroke-width="4.5"/>
<path d="M1537.6,907.2 C1544.3,907.07 1565.68,906.85 1577.8,906.4 C1589.92,905.95 1599.15,905.45 1610.3,904.5 C1621.45,903.55 1632.6,902.28 1644.7,900.7 C1656.8,899.12 1671.75,897 1682.9,895 C1694.05,893 1703.63,890.72 1711.6,888.7 C1719.57,886.68 1725.28,884.33 1730.7,882.9 C1736.12,881.47 1739.32,880.57 1744.1,880.1 C1748.88,879.63 1754.3,879.78 1759.4,880.1 C1764.5,880.42 1768.97,880.57 1774.7,882 C1780.43,883.43 1788.07,886.32 1793.8,888.7 C1799.53,891.08 1804.02,893.82 1809.1,896.3 C1814.18,898.78 1818.57,901.92 1824.3,903.6 C1830.03,905.28 1830.92,905.8 1843.5,906.4 C1856.08,907 1890.42,907.07 1899.8,907.2 L1899.8,908.2 L1537.6,908.2 Z" fill="#1B9E77" fill-opacity="0.75"/>
<line x1="1612.6" y1="907.6" x2="1826.6" y2="907.6" stroke="#000" stroke-width="5.8"/>
<circle cx="1743.5" cy="907.6" r="9.05" fill="#fff" stroke="#FF0000" stroke-width="4.5"/>
<path d="M1666.3,983.4 C1668.12,983.17 1674.18,982.9 1677.2,982 C1680.22,981.1 1681.98,980.03 1684.4,978 C1686.82,975.97 1688.98,973.28 1691.7,969.8 C1694.42,966.32 1697.83,961.32 1700.7,957.1 C1703.57,952.88 1706.48,948.27 1708.9,944.5 C1711.32,940.73 1713.23,937.07 1715.2,934.5 C1717.17,931.93 1718.28,929.85 1720.7,929.1 C1723.12,928.35 1726.68,929.48 1729.7,930 C1732.72,930.52 1736.23,931.45 1738.8,932.2 C1741.37,932.95 1742.83,932.92 1745.1,934.5 C1747.37,936.08 1749.83,939.13 1752.4,941.7 C1754.97,944.27 1757.93,946.87 1760.5,949.9 C1763.07,952.93 1765.38,956.73 1767.8,959.9 C1770.22,963.07 1772.75,966.18 1775,968.9 C1777.25,971.62 1779.03,974.32 1781.3,976.2 C1783.57,978.08 1785.72,979.15 1788.6,980.2 C1791.48,981.25 1795.2,981.97 1798.6,982.5 C1802,983.03 1807.27,983.25 1809,983.4 L1809,984.3 L1666.3,984.3 Z" fill="#E7298A" fill-opacity="0.75"/>
<line x1="1692.1" y1="983.7" x2="1778.2" y2="983.7" stroke="#000" stroke-width="5.8"/>
<circle cx="1732.4" cy="983.7" r="9.05" fill="#fff" stroke="#FF0000" stroke-width="4.5"/>
<line x1="1682.39" y1="1029.2" x2="1682.39" y2="604.3" stroke="#BEBEBE" stroke-width="4.5" stroke-dasharray="18.2 18.2"/>
<line x1="1840.93" y1="1029.2" x2="1840.93" y2="604.3" stroke="#BEBEBE" stroke-width="4.5" stroke-dasharray="18.2 18.2"/>
<line x1="1518.6" y1="604.3" x2="1518.6" y2="1030.45" stroke="#B3B3B3" stroke-width="2.5"/>
<line x1="1517.35" y1="1029.2" x2="1943" y2="1029.2" stroke="#B3B3B3" stroke-width="2.5"/>
<line x1="1520.4" y1="1029.2" x2="1520.4" y2="1040.7" stroke="#B3B3B3" stroke-width="2.4"/>
<text x="1520.4" y="1078" font-family="'Liberation Sans', Arial, sans-serif" font-size="38.3" fill="#4D4D4D" text-anchor="middle">−0.5</text>
<line x1="1611.1" y1="1029.2" x2="1611.1" y2="1040.7" stroke="#B3B3B3" stroke-width="2.4"/>
<text x="1611.1" y="1078" font-family="'Liberation Sans', Arial, sans-serif" font-size="38.3" fill="#4D4D4D" text-anchor="middle">0.0</text>
<line x1="1701.8" y1="1029.2" x2="1701.8" y2="1040.7" stroke="#B3B3B3" stroke-width="2.4"/>
<text x="1701.8" y="1078" font-family="'Liberation Sans', Arial, sans-serif" font-size="38.3" fill="#4D4D4D" text-anchor="middle">0.5</text>
<line x1="1792.5" y1="1029.2" x2="1792.5" y2="1040.7" stroke="#B3B3B3" stroke-width="2.4"/>
<text x="1792.5" y="1078" font-family="'Liberation Sans', Arial, sans-serif" font-size="38.3" fill="#4D4D4D" text-anchor="middle">1.0</text>
<line x1="1883.2" y1="1029.2" x2="1883.2" y2="1040.7" stroke="#B3B3B3" stroke-width="2.4"/>
<text x="1883.2" y="1078" font-family="'Liberation Sans', Arial, sans-serif" font-size="38.3" fill="#4D4D4D" text-anchor="middle">1.5</text>
<line x1="1507.1" y1="680.3" x2="1518.6" y2="680.3" stroke="#B3B3B3" stroke-width="2.4"/>
<text x="1496.8" y="694" font-family="'Liberation Sans', Arial, sans-serif" font-size="38.3" fill="#4D4D4D" text-anchor="end">River valley</text>
<line x1="1507.1" y1="756.1" x2="1518.6" y2="756.1" stroke="#B3B3B3" stroke-width="2.4"/>
<text x="1496.8" y="769.8" font-family="'Liberation Sans', Arial, sans-serif" font-size="38.3" fill="#4D4D4D" text-anchor="end">Fault−bounded</text>
<line x1="1507.1" y1="831.9" x2="1518.6" y2="831.9" stroke="#B3B3B3" stroke-width="2.4"/>
<text x="1496.8" y="845.6" font-family="'Liberation Sans', Arial, sans-serif" font-size="38.3" fill="#4D4D4D" text-anchor="end">Glacial valley</text>
<line x1="1507.1" y1="907.6" x2="1518.6" y2="907.6" stroke="#B3B3B3" stroke-width="2.4"/>
<text x="1496.8" y="921.3" font-family="'Liberation Sans', Arial, sans-serif" font-size="38.3" fill="#4D4D4D" text-anchor="end">Escarpment</text>
<line x1="1507.1" y1="983.7" x2="1518.6" y2="983.7" stroke="#B3B3B3" stroke-width="2.4"/>
<text x="1496.8" y="997.4" font-family="'Liberation Sans', Arial, sans-serif" font-size="38.3" fill="#4D4D4D" text-anchor="end">Volcano</text>
<text x="1731.3" y="1151.4" font-family="'Liberation Serif', serif" font-size="47" fill="#000" text-anchor="middle">β</text>
</svg></body></html>
